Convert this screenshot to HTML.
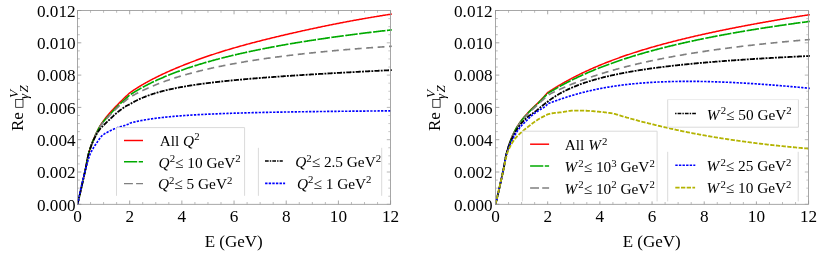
<!DOCTYPE html>
<html><head><meta charset="utf-8"><title>plot</title>
<style>html,body{margin:0;padding:0;background:#fff;}svg{display:block;will-change:transform;}text{font-family:"Liberation Serif",serif;}</style>
</head><body>
<svg width="830" height="259" viewBox="0 0 830 259">
<rect width="830" height="259" fill="#fff"/>
<clipPath id="c77"><rect x="77.5" y="9.5" width="314.70000000000005" height="195.8"/></clipPath>
<g clip-path="url(#c77)" fill="none" stroke-width="1.65" stroke-linejoin="round">
<polyline points="77.50,204.30 77.52,204.24 77.55,204.11 77.59,203.94 77.64,203.73 77.70,203.49 77.77,203.21 77.84,202.90 77.92,202.57 78.01,202.21 78.10,201.82 78.20,201.41 78.30,200.97 78.41,200.51 78.53,200.03 78.65,199.53 78.77,199.00 78.90,198.46 79.04,197.89 79.18,197.30 79.32,196.69 79.47,196.06 79.62,195.41 79.78,194.74 79.94,194.04 80.10,193.34 80.27,192.61 80.44,191.86 80.62,191.09 80.80,190.30 80.98,189.50 81.17,188.67 81.36,187.83 81.56,186.97 81.76,186.09 81.96,185.19 82.16,184.28 82.37,183.34 82.59,182.39 82.80,181.42 83.02,180.43 83.24,179.42 83.47,178.40 83.70,177.36 83.93,176.30 84.17,175.22 84.40,174.13 84.65,173.02 84.89,171.89 85.14,170.75 85.39,169.58 85.64,168.36 85.90,167.07 86.16,165.74 86.42,164.37 86.69,162.97 86.96,161.56 87.23,160.15 87.50,158.75 87.78,157.38 88.06,156.05 88.35,154.79 88.63,153.61 88.92,152.53 89.21,151.51 89.51,150.51 89.80,149.54 90.10,148.59 90.40,147.66 90.71,146.75 91.02,145.87 91.33,145.00 91.64,144.14 91.96,143.31 92.27,142.49 92.59,141.68 92.92,140.88 93.24,140.09 93.57,139.30 93.90,138.53 94.24,137.75 94.57,136.98 94.91,136.20 95.25,135.43 95.60,134.67 95.94,133.91 96.29,133.17 96.64,132.44 96.99,131.72 97.35,131.01 97.71,130.31 98.07,129.62 98.43,128.93 98.80,128.25 99.16,127.57 99.53,126.90 99.91,126.23 100.28,125.57 100.66,124.93 101.04,124.32 101.42,123.75 101.80,123.18 102.19,122.62 102.58,122.06 102.97,121.51 103.36,120.97 103.75,120.43 104.15,119.89 104.55,119.36 104.95,118.83 105.36,118.31 105.76,117.79 106.17,117.27 106.58,116.76 107.00,116.25 107.41,115.74 107.83,115.24 108.25,114.73 108.67,114.23 109.09,113.73 109.52,113.23 109.95,112.73 110.38,112.24 110.81,111.78 111.24,111.31 111.68,110.84 112.12,110.37 112.56,109.91 113.00,109.44 113.45,108.97 113.89,108.50 114.34,108.03 114.79,107.56 115.25,107.09 115.70,106.61 116.16,106.14 116.62,105.67 117.08,105.20 117.54,104.72 118.01,104.25 118.48,103.77 118.95,103.30 119.42,102.82 119.89,102.35 120.36,101.87 120.84,101.40 121.32,100.92 121.80,100.44 122.29,99.96 122.77,99.48 123.26,99.01 123.75,98.53 124.24,98.05 124.73,97.58 125.23,97.10 125.72,96.62 126.22,96.15 126.72,95.68 127.22,95.20 127.73,94.73 128.24,94.25 128.74,93.78 129.25,93.31 129.77,92.85 130.28,92.49 130.80,92.12 131.31,91.76 131.83,91.41 132.36,91.05 132.88,90.70 133.40,90.34 133.93,89.99 134.46,89.64 134.99,89.30 135.52,88.95 136.06,88.61 136.59,88.27 137.13,87.93 137.67,87.59 138.21,87.25 138.76,86.91 139.30,86.58 139.85,86.25 140.40,85.92 140.95,85.59 141.50,85.26 142.06,84.93 142.61,84.61 143.17,84.28 143.73,83.96 144.29,83.64 144.86,83.32 145.42,83.00 145.99,82.68 146.56,82.37 147.13,82.05 147.70,81.74 148.27,81.42 148.85,81.11 149.43,80.80 150.01,80.49 150.59,80.18 151.17,79.88 151.75,79.57 152.34,79.27 152.93,78.96 153.52,78.66 154.11,78.36 154.70,78.06 155.30,77.76 155.89,77.46 156.49,77.16 157.09,76.86 157.69,76.56 158.29,76.27 158.90,75.97 159.51,75.68 160.11,75.39 160.72,75.10 161.34,74.80 161.95,74.51 162.56,74.22 163.18,73.93 163.80,73.65 164.42,73.36 165.04,73.07 165.66,72.79 166.29,72.50 166.92,72.22 167.54,71.93 168.17,71.65 168.81,71.37 169.44,71.09 170.07,70.81 170.71,70.53 171.35,70.25 171.99,69.97 172.63,69.69 173.27,69.41 173.92,69.14 174.56,68.86 175.21,68.59 175.86,68.31 176.51,68.04 177.17,67.76 177.82,67.49 178.48,67.22 179.13,66.94 179.79,66.67 180.45,66.40 181.12,66.13 181.78,65.86 182.45,65.59 183.11,65.32 183.78,65.06 184.45,64.79 185.12,64.52 185.80,64.25 186.47,63.99 187.15,63.72 187.83,63.46 188.51,63.19 189.19,62.93 189.87,62.67 190.55,62.40 191.24,62.14 191.93,61.88 192.62,61.62 193.31,61.36 194.00,61.10 194.69,60.84 195.39,60.58 196.09,60.32 196.78,60.07 197.48,59.81 198.19,59.55 198.89,59.30 199.59,59.05 200.30,58.79 201.01,58.54 201.72,58.29 202.43,58.04 203.14,57.78 203.85,57.53 204.57,57.29 205.28,57.04 206.00,56.79 206.72,56.54 207.44,56.29 208.16,56.05 208.89,55.80 209.61,55.56 210.34,55.31 211.07,55.07 211.80,54.83 212.53,54.59 213.27,54.35 214.00,54.10 214.74,53.86 215.47,53.63 216.21,53.39 216.95,53.15 217.70,52.91 218.44,52.67 219.18,52.44 219.93,52.20 220.68,51.97 221.43,51.73 222.18,51.50 222.93,51.27 223.68,51.04 224.44,50.80 225.20,50.57 225.95,50.34 226.71,50.11 227.48,49.88 228.24,49.65 229.00,49.43 229.77,49.20 230.53,48.97 231.30,48.75 232.07,48.52 232.84,48.30 233.62,48.07 234.39,47.85 235.17,47.62 235.94,47.40 236.72,47.18 237.50,46.96 238.28,46.74 239.06,46.52 239.85,46.30 240.63,46.08 241.42,45.86 242.21,45.64 243.00,45.42 243.79,45.20 244.58,44.98 245.38,44.77 246.17,44.55 246.97,44.34 247.77,44.12 248.57,43.90 249.37,43.69 250.17,43.48 250.97,43.26 251.78,43.05 252.59,42.84 253.39,42.62 254.20,42.41 255.01,42.20 255.83,41.99 256.64,41.78 257.45,41.57 258.27,41.36 259.09,41.15 259.91,40.94 260.73,40.73 261.55,40.52 262.37,40.31 263.20,40.10 264.02,39.89 264.85,39.69 265.68,39.48 266.51,39.27 267.34,39.07 268.17,38.86 269.01,38.66 269.84,38.45 270.68,38.24 271.52,38.04 272.36,37.84 273.20,37.63 274.04,37.43 274.89,37.22 275.73,37.02 276.58,36.82 277.43,36.61 278.27,36.41 279.13,36.21 279.98,36.01 280.83,35.80 281.68,35.60 282.54,35.40 283.40,35.20 284.26,35.00 285.12,34.80 285.98,34.60 286.84,34.40 287.70,34.20 288.57,34.00 289.44,33.80 290.30,33.60 291.17,33.40 292.04,33.20 292.92,33.00 293.79,32.81 294.66,32.61 295.54,32.41 296.42,32.21 297.30,32.02 298.18,31.82 299.06,31.62 299.94,31.42 300.82,31.23 301.71,31.03 302.59,30.83 303.48,30.64 304.37,30.44 305.26,30.25 306.15,30.05 307.05,29.86 307.94,29.66 308.84,29.47 309.73,29.27 310.63,29.08 311.53,28.88 312.43,28.69 313.33,28.50 314.24,28.30 315.14,28.11 316.05,27.92 316.95,27.72 317.86,27.53 318.77,27.34 319.68,27.15 320.60,26.96 321.51,26.77 322.42,26.58 323.34,26.39 324.26,26.20 325.18,26.01 326.10,25.82 327.02,25.63 327.94,25.44 328.87,25.25 329.79,25.07 330.72,24.88 331.64,24.69 332.57,24.51 333.50,24.32 334.44,24.13 335.37,23.95 336.30,23.77 337.24,23.58 338.17,23.40 339.11,23.21 340.05,23.03 340.99,22.85 341.93,22.67 342.88,22.49 343.82,22.31 344.77,22.13 345.71,21.95 346.66,21.77 347.61,21.59 348.56,21.41 349.51,21.23 350.46,21.05 351.42,20.88 352.37,20.70 353.33,20.53 354.29,20.35 355.25,20.18 356.21,20.00 357.17,19.83 358.13,19.65 359.10,19.48 360.06,19.31 361.03,19.14 362.00,18.97 362.97,18.80 363.94,18.63 364.91,18.46 365.88,18.29 366.86,18.12 367.83,17.95 368.81,17.79 369.79,17.62 370.76,17.45 371.74,17.29 372.73,17.13 373.71,16.96 374.69,16.80 375.68,16.63 376.66,16.47 377.65,16.31 378.64,16.15 379.63,15.99 380.62,15.83 381.61,15.67 382.61,15.51 383.60,15.35 384.60,15.20 385.60,15.04 386.59,14.88 387.59,14.73 388.59,14.57 389.60,14.42 390.60,14.27 391.80,14.08" stroke="#ff0000" stroke-width="1.5"/>
<polyline points="77.50,204.30 77.52,204.24 77.55,204.11 77.59,203.94 77.64,203.73 77.70,203.49 77.77,203.21 77.84,202.90 77.92,202.57 78.01,202.21 78.10,201.82 78.20,201.41 78.30,200.97 78.41,200.51 78.53,200.03 78.65,199.53 78.77,199.00 78.90,198.46 79.04,197.89 79.18,197.30 79.32,196.69 79.47,196.06 79.62,195.41 79.78,194.74 79.94,194.04 80.10,193.34 80.27,192.61 80.44,191.86 80.62,191.09 80.80,190.30 80.98,189.50 81.17,188.67 81.36,187.83 81.56,186.97 81.76,186.09 81.96,185.19 82.16,184.28 82.37,183.34 82.59,182.39 82.80,181.42 83.02,180.43 83.24,179.42 83.47,178.40 83.70,177.36 83.93,176.30 84.17,175.22 84.40,174.13 84.65,173.02 84.89,171.89 85.14,170.75 85.39,169.58 85.64,168.36 85.90,167.07 86.16,165.74 86.42,164.36 86.69,162.96 86.96,161.55 87.23,160.13 87.50,158.73 87.78,157.36 88.06,156.04 88.35,154.78 88.63,153.61 88.92,152.53 89.21,151.52 89.51,150.53 89.80,149.57 90.10,148.63 90.40,147.71 90.71,146.81 91.02,145.93 91.33,145.08 91.64,144.24 91.96,143.41 92.27,142.60 92.59,141.80 92.92,141.01 93.24,140.24 93.57,139.46 93.90,138.70 94.24,137.93 94.57,137.17 94.91,136.40 95.25,135.63 95.60,134.87 95.94,134.12 96.29,133.38 96.64,132.65 96.99,131.92 97.35,131.21 97.71,130.50 98.07,129.81 98.43,129.12 98.80,128.45 99.16,127.79 99.53,127.14 99.91,126.50 100.28,125.88 100.66,125.29 101.04,124.73 101.42,124.21 101.80,123.70 102.19,123.19 102.58,122.69 102.97,122.20 103.36,121.72 103.75,121.24 104.15,120.77 104.55,120.30 104.95,119.84 105.36,119.38 105.76,118.92 106.17,118.46 106.58,118.01 107.00,117.55 107.41,117.10 107.83,116.64 108.25,116.18 108.67,115.72 109.09,115.26 109.52,114.79 109.95,114.31 110.38,113.84 110.81,113.37 111.24,112.91 111.68,112.44 112.12,111.98 112.56,111.51 113.00,111.04 113.45,110.57 113.89,110.10 114.34,109.63 114.79,109.16 115.25,108.69 115.70,108.22 116.16,107.75 116.62,107.29 117.08,106.82 117.54,106.36 118.01,105.89 118.48,105.43 118.95,104.97 119.42,104.52 119.89,104.06 120.36,103.61 120.84,103.16 121.32,102.71 121.80,102.25 122.29,101.80 122.77,101.35 123.26,100.90 123.75,100.45 124.24,99.99 124.73,99.54 125.23,99.09 125.72,98.64 126.22,98.18 126.72,97.73 127.22,97.28 127.73,96.83 128.24,96.38 128.74,95.92 129.25,95.47 129.77,95.04 130.28,94.70 130.80,94.37 131.31,94.03 131.83,93.70 132.36,93.36 132.88,93.03 133.40,92.70 133.93,92.38 134.46,92.05 134.99,91.72 135.52,91.40 136.06,91.08 136.59,90.76 137.13,90.44 137.67,90.12 138.21,89.80 138.76,89.49 139.30,89.17 139.85,88.86 140.40,88.55 140.95,88.24 141.50,87.93 142.06,87.62 142.61,87.32 143.17,87.01 143.73,86.71 144.29,86.41 144.86,86.11 145.42,85.81 145.99,85.51 146.56,85.21 147.13,84.92 147.70,84.62 148.27,84.33 148.85,84.04 149.43,83.75 150.01,83.46 150.59,83.17 151.17,82.88 151.75,82.60 152.34,82.31 152.93,82.03 153.52,81.75 154.11,81.47 154.70,81.19 155.30,80.91 155.89,80.63 156.49,80.36 157.09,80.08 157.69,79.81 158.29,79.53 158.90,79.26 159.51,78.99 160.11,78.72 160.72,78.45 161.34,78.18 161.95,77.92 162.56,77.65 163.18,77.39 163.80,77.13 164.42,76.86 165.04,76.60 165.66,76.34 166.29,76.08 166.92,75.82 167.54,75.57 168.17,75.31 168.81,75.06 169.44,74.80 170.07,74.55 170.71,74.30 171.35,74.05 171.99,73.80 172.63,73.55 173.27,73.30 173.92,73.05 174.56,72.81 175.21,72.56 175.86,72.32 176.51,72.07 177.17,71.83 177.82,71.59 178.48,71.35 179.13,71.11 179.79,70.87 180.45,70.63 181.12,70.39 181.78,70.16 182.45,69.92 183.11,69.69 183.78,69.45 184.45,69.22 185.12,68.99 185.80,68.76 186.47,68.53 187.15,68.30 187.83,68.07 188.51,67.84 189.19,67.62 189.87,67.39 190.55,67.17 191.24,66.94 191.93,66.72 192.62,66.50 193.31,66.27 194.00,66.05 194.69,65.83 195.39,65.61 196.09,65.39 196.78,65.18 197.48,64.96 198.19,64.74 198.89,64.53 199.59,64.31 200.30,64.10 201.01,63.89 201.72,63.67 202.43,63.46 203.14,63.25 203.85,63.04 204.57,62.83 205.28,62.62 206.00,62.41 206.72,62.21 207.44,62.00 208.16,61.79 208.89,61.59 209.61,61.38 210.34,61.18 211.07,60.98 211.80,60.77 212.53,60.57 213.27,60.37 214.00,60.17 214.74,59.97 215.47,59.77 216.21,59.57 216.95,59.38 217.70,59.18 218.44,58.98 219.18,58.79 219.93,58.59 220.68,58.40 221.43,58.21 222.18,58.01 222.93,57.82 223.68,57.63 224.44,57.44 225.20,57.25 225.95,57.06 226.71,56.87 227.48,56.68 228.24,56.49 229.00,56.30 229.77,56.12 230.53,55.93 231.30,55.74 232.07,55.56 232.84,55.38 233.62,55.19 234.39,55.01 235.17,54.83 235.94,54.64 236.72,54.46 237.50,54.28 238.28,54.10 239.06,53.92 239.85,53.74 240.63,53.56 241.42,53.39 242.21,53.21 243.00,53.03 243.79,52.86 244.58,52.68 245.38,52.51 246.17,52.33 246.97,52.16 247.77,51.98 248.57,51.81 249.37,51.64 250.17,51.47 250.97,51.30 251.78,51.12 252.59,50.95 253.39,50.78 254.20,50.62 255.01,50.45 255.83,50.28 256.64,50.11 257.45,49.94 258.27,49.78 259.09,49.61 259.91,49.45 260.73,49.28 261.55,49.12 262.37,48.95 263.20,48.79 264.02,48.63 264.85,48.46 265.68,48.30 266.51,48.14 267.34,47.98 268.17,47.82 269.01,47.66 269.84,47.50 270.68,47.34 271.52,47.18 272.36,47.02 273.20,46.86 274.04,46.71 274.89,46.55 275.73,46.39 276.58,46.24 277.43,46.08 278.27,45.93 279.13,45.77 279.98,45.62 280.83,45.47 281.68,45.31 282.54,45.16 283.40,45.01 284.26,44.86 285.12,44.70 285.98,44.55 286.84,44.40 287.70,44.25 288.57,44.10 289.44,43.95 290.30,43.81 291.17,43.66 292.04,43.51 292.92,43.36 293.79,43.21 294.66,43.07 295.54,42.92 296.42,42.78 297.30,42.63 298.18,42.49 299.06,42.34 299.94,42.20 300.82,42.05 301.71,41.91 302.59,41.77 303.48,41.62 304.37,41.48 305.26,41.34 306.15,41.20 307.05,41.06 307.94,40.92 308.84,40.78 309.73,40.64 310.63,40.50 311.53,40.36 312.43,40.22 313.33,40.08 314.24,39.95 315.14,39.81 316.05,39.67 316.95,39.53 317.86,39.40 318.77,39.26 319.68,39.13 320.60,38.99 321.51,38.86 322.42,38.72 323.34,38.59 324.26,38.46 325.18,38.32 326.10,38.19 327.02,38.06 327.94,37.92 328.87,37.79 329.79,37.66 330.72,37.53 331.64,37.40 332.57,37.27 333.50,37.14 334.44,37.01 335.37,36.88 336.30,36.75 337.24,36.62 338.17,36.49 339.11,36.36 340.05,36.24 340.99,36.11 341.93,35.98 342.88,35.86 343.82,35.73 344.77,35.60 345.71,35.48 346.66,35.35 347.61,35.23 348.56,35.10 349.51,34.98 350.46,34.85 351.42,34.73 352.37,34.61 353.33,34.48 354.29,34.36 355.25,34.24 356.21,34.12 357.17,34.00 358.13,33.87 359.10,33.75 360.06,33.63 361.03,33.51 362.00,33.39 362.97,33.27 363.94,33.15 364.91,33.03 365.88,32.91 366.86,32.80 367.83,32.68 368.81,32.56 369.79,32.44 370.76,32.32 371.74,32.21 372.73,32.09 373.71,31.97 374.69,31.86 375.68,31.74 376.66,31.63 377.65,31.51 378.64,31.40 379.63,31.28 380.62,31.17 381.61,31.05 382.61,30.94 383.60,30.82 384.60,30.71 385.60,30.60 386.59,30.49 387.59,30.37 388.59,30.26 389.60,30.15 390.60,30.04 391.80,29.90" stroke="#00aa00" stroke-dasharray="12.5 1.5"/>
<polyline points="77.50,204.30 77.52,204.24 77.55,204.11 77.59,203.94 77.64,203.73 77.70,203.49 77.77,203.21 77.84,202.90 77.92,202.57 78.01,202.21 78.10,201.82 78.20,201.41 78.30,200.97 78.41,200.51 78.53,200.03 78.65,199.53 78.77,199.00 78.90,198.46 79.04,197.89 79.18,197.30 79.32,196.69 79.47,196.06 79.62,195.41 79.78,194.74 79.94,194.04 80.10,193.34 80.27,192.61 80.44,191.86 80.62,191.09 80.80,190.30 80.98,189.50 81.17,188.67 81.36,187.83 81.56,186.97 81.76,186.09 81.96,185.19 82.16,184.28 82.37,183.34 82.59,182.39 82.80,181.42 83.02,180.43 83.24,179.42 83.47,178.40 83.70,177.36 83.93,176.30 84.17,175.22 84.40,174.13 84.65,173.02 84.89,171.89 85.14,170.75 85.39,169.58 85.64,168.36 85.90,167.07 86.16,165.73 86.42,164.36 86.69,162.95 86.96,161.54 87.23,160.12 87.50,158.72 87.78,157.35 88.06,156.03 88.35,154.77 88.63,153.60 88.92,152.53 89.21,151.53 89.51,150.55 89.80,149.59 90.10,148.66 90.40,147.75 90.71,146.87 91.02,146.00 91.33,145.16 91.64,144.33 91.96,143.51 92.27,142.72 92.59,141.93 92.92,141.15 93.24,140.39 93.57,139.62 93.90,138.87 94.24,138.11 94.57,137.36 94.91,136.60 95.25,135.84 95.60,135.08 95.94,134.34 96.29,133.60 96.64,132.87 96.99,132.15 97.35,131.43 97.71,130.73 98.07,130.04 98.43,129.36 98.80,128.70 99.16,128.04 99.53,127.40 99.91,126.78 100.28,126.17 100.66,125.60 101.04,125.06 101.42,124.56 101.80,124.07 102.19,123.58 102.58,123.10 102.97,122.63 103.36,122.17 103.75,121.71 104.15,121.26 104.55,120.81 104.95,120.37 105.36,119.93 105.76,119.49 106.17,119.06 106.58,118.62 107.00,118.19 107.41,117.76 107.83,117.32 108.25,116.88 108.67,116.44 109.09,116.00 109.52,115.55 109.95,115.10 110.38,114.64 110.81,114.20 111.24,113.76 111.68,113.31 112.12,112.86 112.56,112.41 113.00,111.96 113.45,111.50 113.89,111.05 114.34,110.60 114.79,110.15 115.25,109.70 115.70,109.25 116.16,108.81 116.62,108.37 117.08,107.93 117.54,107.49 118.01,107.06 118.48,106.63 118.95,106.21 119.42,105.79 119.89,105.38 120.36,104.97 120.84,104.56 121.32,104.15 121.80,103.74 122.29,103.34 122.77,102.93 123.26,102.53 123.75,102.12 124.24,101.71 124.73,101.31 125.23,100.90 125.72,100.50 126.22,100.09 126.72,99.69 127.22,99.29 127.73,98.89 128.24,98.49 128.74,98.09 129.25,97.69 129.77,97.32 130.28,97.02 130.80,96.72 131.31,96.42 131.83,96.13 132.36,95.84 132.88,95.55 133.40,95.26 133.93,94.97 134.46,94.68 134.99,94.39 135.52,94.11 136.06,93.82 136.59,93.54 137.13,93.26 137.67,92.98 138.21,92.70 138.76,92.43 139.30,92.15 139.85,91.88 140.40,91.61 140.95,91.33 141.50,91.06 142.06,90.80 142.61,90.53 143.17,90.26 143.73,90.00 144.29,89.73 144.86,89.47 145.42,89.21 145.99,88.95 146.56,88.69 147.13,88.43 147.70,88.18 148.27,87.92 148.85,87.67 149.43,87.42 150.01,87.16 150.59,86.91 151.17,86.66 151.75,86.42 152.34,86.17 152.93,85.93 153.52,85.68 154.11,85.44 154.70,85.20 155.30,84.96 155.89,84.72 156.49,84.48 157.09,84.24 157.69,84.00 158.29,83.77 158.90,83.53 159.51,83.30 160.11,83.07 160.72,82.84 161.34,82.61 161.95,82.38 162.56,82.15 163.18,81.93 163.80,81.70 164.42,81.48 165.04,81.26 165.66,81.03 166.29,80.81 166.92,80.59 167.54,80.37 168.17,80.16 168.81,79.94 169.44,79.72 170.07,79.51 170.71,79.29 171.35,79.08 171.99,78.87 172.63,78.66 173.27,78.45 173.92,78.24 174.56,78.03 175.21,77.83 175.86,77.62 176.51,77.41 177.17,77.21 177.82,77.01 178.48,76.81 179.13,76.60 179.79,76.40 180.45,76.21 181.12,76.01 181.78,75.81 182.45,75.61 183.11,75.42 183.78,75.22 184.45,75.03 185.12,74.84 185.80,74.64 186.47,74.45 187.15,74.26 187.83,74.07 188.51,73.89 189.19,73.70 189.87,73.51 190.55,73.33 191.24,73.14 191.93,72.96 192.62,72.77 193.31,72.59 194.00,72.41 194.69,72.23 195.39,72.05 196.09,71.87 196.78,71.69 197.48,71.51 198.19,71.34 198.89,71.16 199.59,70.99 200.30,70.81 201.01,70.64 201.72,70.47 202.43,70.29 203.14,70.12 203.85,69.95 204.57,69.78 205.28,69.62 206.00,69.45 206.72,69.28 207.44,69.11 208.16,68.95 208.89,68.78 209.61,68.62 210.34,68.46 211.07,68.29 211.80,68.13 212.53,67.97 213.27,67.81 214.00,67.65 214.74,67.49 215.47,67.33 216.21,67.17 216.95,67.02 217.70,66.86 218.44,66.71 219.18,66.55 219.93,66.40 220.68,66.24 221.43,66.09 222.18,65.94 222.93,65.79 223.68,65.64 224.44,65.49 225.20,65.34 225.95,65.19 226.71,65.04 227.48,64.89 228.24,64.75 229.00,64.60 229.77,64.46 230.53,64.31 231.30,64.17 232.07,64.02 232.84,63.88 233.62,63.74 234.39,63.60 235.17,63.46 235.94,63.32 236.72,63.18 237.50,63.04 238.28,62.90 239.06,62.76 239.85,62.62 240.63,62.49 241.42,62.35 242.21,62.22 243.00,62.08 243.79,61.95 244.58,61.81 245.38,61.68 246.17,61.55 246.97,61.42 247.77,61.28 248.57,61.15 249.37,61.02 250.17,60.89 250.97,60.76 251.78,60.64 252.59,60.51 253.39,60.38 254.20,60.25 255.01,60.13 255.83,60.00 256.64,59.88 257.45,59.75 258.27,59.63 259.09,59.51 259.91,59.38 260.73,59.26 261.55,59.14 262.37,59.02 263.20,58.90 264.02,58.78 264.85,58.66 265.68,58.54 266.51,58.42 267.34,58.30 268.17,58.18 269.01,58.07 269.84,57.95 270.68,57.83 271.52,57.72 272.36,57.60 273.20,57.49 274.04,57.38 274.89,57.26 275.73,57.15 276.58,57.04 277.43,56.92 278.27,56.81 279.13,56.70 279.98,56.59 280.83,56.48 281.68,56.37 282.54,56.26 283.40,56.15 284.26,56.05 285.12,55.94 285.98,55.83 286.84,55.72 287.70,55.62 288.57,55.51 289.44,55.41 290.30,55.30 291.17,55.20 292.04,55.09 292.92,54.99 293.79,54.89 294.66,54.78 295.54,54.68 296.42,54.58 297.30,54.48 298.18,54.38 299.06,54.28 299.94,54.18 300.82,54.08 301.71,53.98 302.59,53.88 303.48,53.78 304.37,53.68 305.26,53.59 306.15,53.49 307.05,53.39 307.94,53.30 308.84,53.20 309.73,53.10 310.63,53.01 311.53,52.92 312.43,52.82 313.33,52.73 314.24,52.63 315.14,52.54 316.05,52.45 316.95,52.36 317.86,52.26 318.77,52.17 319.68,52.08 320.60,51.99 321.51,51.90 322.42,51.81 323.34,51.72 324.26,51.63 325.18,51.55 326.10,51.46 327.02,51.37 327.94,51.28 328.87,51.20 329.79,51.11 330.72,51.02 331.64,50.94 332.57,50.85 333.50,50.77 334.44,50.68 335.37,50.60 336.30,50.51 337.24,50.43 338.17,50.35 339.11,50.26 340.05,50.18 340.99,50.10 341.93,50.02 342.88,49.93 343.82,49.85 344.77,49.77 345.71,49.69 346.66,49.61 347.61,49.53 348.56,49.45 349.51,49.37 350.46,49.30 351.42,49.22 352.37,49.14 353.33,49.06 354.29,48.98 355.25,48.91 356.21,48.83 357.17,48.75 358.13,48.68 359.10,48.60 360.06,48.53 361.03,48.45 362.00,48.38 362.97,48.30 363.94,48.23 364.91,48.16 365.88,48.08 366.86,48.01 367.83,47.94 368.81,47.86 369.79,47.79 370.76,47.72 371.74,47.65 372.73,47.58 373.71,47.51 374.69,47.44 375.68,47.37 376.66,47.30 377.65,47.23 378.64,47.16 379.63,47.09 380.62,47.02 381.61,46.95 382.61,46.88 383.60,46.82 384.60,46.75 385.60,46.68 386.59,46.62 387.59,46.55 388.59,46.48 389.60,46.42 390.60,46.35 391.80,46.27" stroke="#808080" stroke-dasharray="6.9 4.55"/>
<polyline points="77.50,204.30 77.52,204.24 77.55,204.11 77.59,203.94 77.64,203.73 77.70,203.48 77.77,203.20 77.84,202.89 77.92,202.55 78.01,202.19 78.10,201.80 78.20,201.39 78.30,200.95 78.41,200.48 78.53,200.00 78.65,199.49 78.77,198.96 78.90,198.41 79.04,197.84 79.18,197.25 79.32,196.64 79.47,196.00 79.62,195.35 79.78,194.68 79.94,193.99 80.10,193.27 80.27,192.54 80.44,191.79 80.62,191.03 80.80,190.24 80.98,189.43 81.17,188.61 81.36,187.77 81.56,186.91 81.76,186.03 81.96,185.13 82.16,184.21 82.37,183.28 82.59,182.33 82.80,181.36 83.02,180.38 83.24,179.38 83.47,178.36 83.70,177.32 83.93,176.27 84.17,175.19 84.40,174.11 84.65,173.00 84.89,171.88 85.14,170.74 85.39,169.58 85.64,168.36 85.90,167.08 86.16,165.75 86.42,164.38 86.69,162.98 86.96,161.58 87.23,160.17 87.50,158.78 87.78,157.43 88.06,156.13 88.35,154.90 88.63,153.76 88.92,152.73 89.21,151.77 89.51,150.82 89.80,149.90 90.10,148.99 90.40,148.10 90.71,147.22 91.02,146.37 91.33,145.53 91.64,144.71 91.96,143.90 92.27,143.11 92.59,142.34 92.92,141.58 93.24,140.84 93.57,140.11 93.90,139.39 94.24,138.69 94.57,138.00 94.91,137.32 95.25,136.65 95.60,135.99 95.94,135.34 96.29,134.70 96.64,134.07 96.99,133.45 97.35,132.86 97.71,132.28 98.07,131.72 98.43,131.17 98.80,130.65 99.16,130.14 99.53,129.65 99.91,129.17 100.28,128.71 100.66,128.27 101.04,127.85 101.42,127.44 101.80,127.05 102.19,126.66 102.58,126.28 102.97,125.90 103.36,125.52 103.75,125.14 104.15,124.76 104.55,124.36 104.95,123.96 105.36,123.55 105.76,123.15 106.17,122.75 106.58,122.36 107.00,121.96 107.41,121.57 107.83,121.18 108.25,120.79 108.67,120.39 109.09,120.00 109.52,119.60 109.95,119.19 110.38,118.79 110.81,118.38 111.24,117.96 111.68,117.55 112.12,117.13 112.56,116.71 113.00,116.29 113.45,115.87 113.89,115.45 114.34,115.03 114.79,114.62 115.25,114.22 115.70,113.82 116.16,113.42 116.62,113.03 117.08,112.65 117.54,112.26 118.01,111.88 118.48,111.51 118.95,111.14 119.42,110.78 119.89,110.42 120.36,110.07 120.84,109.71 121.32,109.36 121.80,109.01 122.29,108.66 122.77,108.31 123.26,107.96 123.75,107.62 124.24,107.29 124.73,106.97 125.23,106.65 125.72,106.35 126.22,106.05 126.72,105.77 127.22,105.50 127.73,105.25 128.24,105.00 128.74,104.77 129.25,104.55 129.77,104.32 130.28,104.00 130.80,103.69 131.31,103.38 131.83,103.07 132.36,102.77 132.88,102.47 133.40,102.17 133.93,101.88 134.46,101.60 134.99,101.32 135.52,101.04 136.06,100.76 136.59,100.49 137.13,100.22 137.67,99.96 138.21,99.70 138.76,99.44 139.30,99.19 139.85,98.94 140.40,98.69 140.95,98.44 141.50,98.20 142.06,97.96 142.61,97.73 143.17,97.49 143.73,97.26 144.29,97.04 144.86,96.81 145.42,96.59 145.99,96.37 146.56,96.15 147.13,95.94 147.70,95.73 148.27,95.52 148.85,95.31 149.43,95.11 150.01,94.91 150.59,94.71 151.17,94.51 151.75,94.32 152.34,94.12 152.93,93.93 153.52,93.74 154.11,93.56 154.70,93.37 155.30,93.19 155.89,93.01 156.49,92.83 157.09,92.66 157.69,92.48 158.29,92.31 158.90,92.14 159.51,91.97 160.11,91.80 160.72,91.64 161.34,91.47 161.95,91.31 162.56,91.15 163.18,90.99 163.80,90.83 164.42,90.68 165.04,90.52 165.66,90.37 166.29,90.22 166.92,90.07 167.54,89.92 168.17,89.78 168.81,89.63 169.44,89.49 170.07,89.34 170.71,89.20 171.35,89.06 171.99,88.92 172.63,88.79 173.27,88.65 173.92,88.52 174.56,88.38 175.21,88.25 175.86,88.12 176.51,87.99 177.17,87.86 177.82,87.73 178.48,87.61 179.13,87.48 179.79,87.36 180.45,87.23 181.12,87.11 181.78,86.99 182.45,86.87 183.11,86.75 183.78,86.63 184.45,86.52 185.12,86.40 185.80,86.29 186.47,86.17 187.15,86.06 187.83,85.95 188.51,85.84 189.19,85.72 189.87,85.62 190.55,85.51 191.24,85.40 191.93,85.29 192.62,85.19 193.31,85.08 194.00,84.98 194.69,84.87 195.39,84.77 196.09,84.67 196.78,84.56 197.48,84.46 198.19,84.36 198.89,84.26 199.59,84.17 200.30,84.07 201.01,83.97 201.72,83.87 202.43,83.78 203.14,83.68 203.85,83.59 204.57,83.49 205.28,83.40 206.00,83.31 206.72,83.22 207.44,83.12 208.16,83.03 208.89,82.94 209.61,82.85 210.34,82.77 211.07,82.68 211.80,82.59 212.53,82.50 213.27,82.41 214.00,82.33 214.74,82.24 215.47,82.16 216.21,82.07 216.95,81.99 217.70,81.91 218.44,81.82 219.18,81.74 219.93,81.66 220.68,81.58 221.43,81.49 222.18,81.41 222.93,81.33 223.68,81.25 224.44,81.17 225.20,81.09 225.95,81.02 226.71,80.94 227.48,80.86 228.24,80.78 229.00,80.71 229.77,80.63 230.53,80.55 231.30,80.48 232.07,80.40 232.84,80.33 233.62,80.25 234.39,80.18 235.17,80.11 235.94,80.03 236.72,79.96 237.50,79.89 238.28,79.81 239.06,79.74 239.85,79.67 240.63,79.60 241.42,79.53 242.21,79.46 243.00,79.39 243.79,79.32 244.58,79.25 245.38,79.18 246.17,79.11 246.97,79.04 247.77,78.97 248.57,78.90 249.37,78.84 250.17,78.77 250.97,78.70 251.78,78.63 252.59,78.57 253.39,78.50 254.20,78.43 255.01,78.37 255.83,78.30 256.64,78.24 257.45,78.17 258.27,78.11 259.09,78.04 259.91,77.98 260.73,77.91 261.55,77.85 262.37,77.79 263.20,77.72 264.02,77.66 264.85,77.60 265.68,77.53 266.51,77.47 267.34,77.41 268.17,77.35 269.01,77.28 269.84,77.22 270.68,77.16 271.52,77.10 272.36,77.04 273.20,76.98 274.04,76.92 274.89,76.85 275.73,76.79 276.58,76.73 277.43,76.67 278.27,76.61 279.13,76.55 279.98,76.49 280.83,76.44 281.68,76.38 282.54,76.32 283.40,76.26 284.26,76.20 285.12,76.14 285.98,76.08 286.84,76.02 287.70,75.97 288.57,75.91 289.44,75.85 290.30,75.79 291.17,75.74 292.04,75.68 292.92,75.62 293.79,75.56 294.66,75.51 295.54,75.45 296.42,75.39 297.30,75.34 298.18,75.28 299.06,75.22 299.94,75.17 300.82,75.11 301.71,75.06 302.59,75.00 303.48,74.94 304.37,74.89 305.26,74.83 306.15,74.78 307.05,74.72 307.94,74.67 308.84,74.61 309.73,74.56 310.63,74.50 311.53,74.45 312.43,74.39 313.33,74.34 314.24,74.29 315.14,74.23 316.05,74.18 316.95,74.12 317.86,74.07 318.77,74.02 319.68,73.96 320.60,73.91 321.51,73.85 322.42,73.80 323.34,73.75 324.26,73.69 325.18,73.64 326.10,73.59 327.02,73.53 327.94,73.48 328.87,73.43 329.79,73.38 330.72,73.32 331.64,73.27 332.57,73.22 333.50,73.17 334.44,73.11 335.37,73.06 336.30,73.01 337.24,72.96 338.17,72.90 339.11,72.85 340.05,72.80 340.99,72.75 341.93,72.70 342.88,72.64 343.82,72.59 344.77,72.54 345.71,72.49 346.66,72.44 347.61,72.39 348.56,72.33 349.51,72.28 350.46,72.23 351.42,72.18 352.37,72.13 353.33,72.08 354.29,72.03 355.25,71.97 356.21,71.92 357.17,71.87 358.13,71.82 359.10,71.77 360.06,71.72 361.03,71.67 362.00,71.62 362.97,71.57 363.94,71.52 364.91,71.47 365.88,71.42 366.86,71.36 367.83,71.31 368.81,71.26 369.79,71.21 370.76,71.16 371.74,71.11 372.73,71.06 373.71,71.01 374.69,70.96 375.68,70.91 376.66,70.86 377.65,70.81 378.64,70.76 379.63,70.71 380.62,70.66 381.61,70.61 382.61,70.56 383.60,70.51 384.60,70.46 385.60,70.41 386.59,70.36 387.59,70.31 388.59,70.26 389.60,70.21 390.60,70.16 391.80,70.10" stroke="#000000" stroke-dasharray="5.2 1.15 1.9 1.15" stroke-width="1.8"/>
<polyline points="77.50,204.30 77.52,204.22 77.55,204.07 77.59,203.86 77.64,203.60 77.70,203.31 77.77,202.97 77.84,202.60 77.92,202.20 78.01,201.77 78.10,201.32 78.20,200.83 78.30,200.32 78.41,199.79 78.53,199.23 78.65,198.66 78.77,198.06 78.90,197.44 79.04,196.81 79.18,196.16 79.32,195.48 79.47,194.80 79.62,194.10 79.78,193.38 79.94,192.65 80.10,191.90 80.27,191.14 80.44,190.37 80.62,189.59 80.80,188.79 80.98,187.98 81.17,187.17 81.36,186.34 81.56,185.50 81.76,184.65 81.96,183.79 82.16,182.93 82.37,182.05 82.59,181.17 82.80,180.27 83.02,179.37 83.24,178.47 83.47,177.55 83.70,176.63 83.93,175.69 84.17,174.76 84.40,173.81 84.65,172.86 84.89,171.89 85.14,170.94 85.39,170.04 85.64,169.12 85.90,168.19 86.16,167.24 86.42,166.28 86.69,165.30 86.96,164.32 87.23,163.33 87.50,162.34 87.78,161.36 88.06,160.38 88.35,159.42 88.63,158.47 88.92,157.54 89.21,156.64 89.51,155.77 89.80,154.94 90.10,154.15 90.40,153.41 90.71,152.77 91.02,152.17 91.33,151.59 91.64,151.01 91.96,150.44 92.27,149.88 92.59,149.33 92.92,148.77 93.24,148.23 93.57,147.69 93.90,147.15 94.24,146.61 94.57,146.08 94.91,145.55 95.25,145.02 95.60,144.50 95.94,143.97 96.29,143.44 96.64,142.91 96.99,142.41 97.35,141.90 97.71,141.38 98.07,140.85 98.43,140.32 98.80,139.78 99.16,139.25 99.53,138.72 99.91,138.20 100.28,137.69 100.66,137.20 101.04,136.74 101.42,136.30 101.80,135.90 102.19,135.53 102.58,135.20 102.97,134.89 103.36,134.61 103.75,134.34 104.15,134.08 104.55,133.82 104.95,133.57 105.36,133.33 105.76,133.09 106.17,132.85 106.58,132.62 107.00,132.40 107.41,132.18 107.83,131.96 108.25,131.74 108.67,131.52 109.09,131.30 109.52,131.08 109.95,130.87 110.38,130.65 110.81,130.44 111.24,130.23 111.68,130.02 112.12,129.82 112.56,129.62 113.00,129.42 113.45,129.22 113.89,129.03 114.34,128.84 114.79,128.65 115.25,128.46 115.70,128.28 116.16,128.10 116.62,127.93 117.08,127.76 117.54,127.60 118.01,127.44 118.48,127.29 118.95,127.14 119.42,127.00 119.89,126.87 120.36,126.73 120.84,126.60 121.32,126.47 121.80,126.34 122.29,126.20 122.77,126.07 123.26,125.93 123.75,125.79 124.24,125.64 124.73,125.49 125.23,125.33 125.72,125.16 126.22,124.98 126.72,124.79 127.22,124.59 127.73,124.38 128.24,124.15 128.74,123.86 129.25,123.52 129.77,123.21 130.28,123.07 130.80,122.93 131.31,122.79 131.83,122.66 132.36,122.53 132.88,122.40 133.40,122.27 133.93,122.14 134.46,122.01 134.99,121.89 135.52,121.77 136.06,121.64 136.59,121.52 137.13,121.41 137.67,121.29 138.21,121.18 138.76,121.06 139.30,120.95 139.85,120.84 140.40,120.73 140.95,120.62 141.50,120.52 142.06,120.41 142.61,120.31 143.17,120.21 143.73,120.11 144.29,120.01 144.86,119.91 145.42,119.81 145.99,119.72 146.56,119.62 147.13,119.53 147.70,119.44 148.27,119.35 148.85,119.26 149.43,119.17 150.01,119.08 150.59,118.99 151.17,118.91 151.75,118.82 152.34,118.74 152.93,118.66 153.52,118.58 154.11,118.49 154.70,118.42 155.30,118.34 155.89,118.26 156.49,118.18 157.09,118.11 157.69,118.03 158.29,117.96 158.90,117.88 159.51,117.81 160.11,117.74 160.72,117.67 161.34,117.60 161.95,117.53 162.56,117.46 163.18,117.39 163.80,117.33 164.42,117.26 165.04,117.20 165.66,117.13 166.29,117.07 166.92,117.00 167.54,116.94 168.17,116.88 168.81,116.82 169.44,116.76 170.07,116.70 170.71,116.64 171.35,116.58 171.99,116.52 172.63,116.47 173.27,116.41 173.92,116.35 174.56,116.30 175.21,116.24 175.86,116.19 176.51,116.14 177.17,116.08 177.82,116.03 178.48,115.98 179.13,115.93 179.79,115.88 180.45,115.83 181.12,115.78 181.78,115.73 182.45,115.68 183.11,115.63 183.78,115.58 184.45,115.54 185.12,115.49 185.80,115.44 186.47,115.40 187.15,115.35 187.83,115.31 188.51,115.26 189.19,115.22 189.87,115.18 190.55,115.13 191.24,115.09 191.93,115.05 192.62,115.01 193.31,114.97 194.00,114.93 194.69,114.89 195.39,114.85 196.09,114.81 196.78,114.77 197.48,114.73 198.19,114.69 198.89,114.65 199.59,114.61 200.30,114.58 201.01,114.54 201.72,114.50 202.43,114.47 203.14,114.43 203.85,114.39 204.57,114.36 205.28,114.32 206.00,114.29 206.72,114.26 207.44,114.22 208.16,114.19 208.89,114.16 209.61,114.12 210.34,114.09 211.07,114.06 211.80,114.03 212.53,113.99 213.27,113.96 214.00,113.93 214.74,113.90 215.47,113.87 216.21,113.84 216.95,113.81 217.70,113.78 218.44,113.75 219.18,113.72 219.93,113.69 220.68,113.67 221.43,113.64 222.18,113.61 222.93,113.58 223.68,113.55 224.44,113.53 225.20,113.50 225.95,113.47 226.71,113.45 227.48,113.42 228.24,113.39 229.00,113.37 229.77,113.34 230.53,113.32 231.30,113.29 232.07,113.27 232.84,113.24 233.62,113.22 234.39,113.19 235.17,113.17 235.94,113.14 236.72,113.12 237.50,113.10 238.28,113.07 239.06,113.05 239.85,113.03 240.63,113.01 241.42,112.98 242.21,112.96 243.00,112.94 243.79,112.92 244.58,112.90 245.38,112.87 246.17,112.85 246.97,112.83 247.77,112.81 248.57,112.79 249.37,112.77 250.17,112.75 250.97,112.73 251.78,112.71 252.59,112.69 253.39,112.67 254.20,112.65 255.01,112.63 255.83,112.61 256.64,112.59 257.45,112.57 258.27,112.55 259.09,112.53 259.91,112.52 260.73,112.50 261.55,112.48 262.37,112.46 263.20,112.44 264.02,112.42 264.85,112.41 265.68,112.39 266.51,112.37 267.34,112.35 268.17,112.34 269.01,112.32 269.84,112.30 270.68,112.29 271.52,112.27 272.36,112.25 273.20,112.24 274.04,112.22 274.89,112.21 275.73,112.19 276.58,112.17 277.43,112.16 278.27,112.14 279.13,112.13 279.98,112.11 280.83,112.10 281.68,112.08 282.54,112.07 283.40,112.05 284.26,112.04 285.12,112.02 285.98,112.01 286.84,111.99 287.70,111.98 288.57,111.96 289.44,111.95 290.30,111.94 291.17,111.92 292.04,111.91 292.92,111.89 293.79,111.88 294.66,111.87 295.54,111.85 296.42,111.84 297.30,111.83 298.18,111.81 299.06,111.80 299.94,111.79 300.82,111.77 301.71,111.76 302.59,111.75 303.48,111.74 304.37,111.72 305.26,111.71 306.15,111.70 307.05,111.69 307.94,111.67 308.84,111.66 309.73,111.65 310.63,111.64 311.53,111.63 312.43,111.61 313.33,111.60 314.24,111.59 315.14,111.58 316.05,111.57 316.95,111.56 317.86,111.55 318.77,111.53 319.68,111.52 320.60,111.51 321.51,111.50 322.42,111.49 323.34,111.48 324.26,111.47 325.18,111.46 326.10,111.45 327.02,111.44 327.94,111.43 328.87,111.41 329.79,111.40 330.72,111.39 331.64,111.38 332.57,111.37 333.50,111.36 334.44,111.35 335.37,111.34 336.30,111.33 337.24,111.32 338.17,111.31 339.11,111.30 340.05,111.29 340.99,111.28 341.93,111.27 342.88,111.26 343.82,111.25 344.77,111.25 345.71,111.24 346.66,111.23 347.61,111.22 348.56,111.21 349.51,111.20 350.46,111.19 351.42,111.18 352.37,111.17 353.33,111.16 354.29,111.15 355.25,111.14 356.21,111.14 357.17,111.13 358.13,111.12 359.10,111.11 360.06,111.10 361.03,111.09 362.00,111.08 362.97,111.08 363.94,111.07 364.91,111.06 365.88,111.05 366.86,111.04 367.83,111.03 368.81,111.02 369.79,111.02 370.76,111.01 371.74,111.00 372.73,110.99 373.71,110.98 374.69,110.98 375.68,110.97 376.66,110.96 377.65,110.95 378.64,110.94 379.63,110.94 380.62,110.93 381.61,110.92 382.61,110.91 383.60,110.91 384.60,110.90 385.60,110.89 386.59,110.88 387.59,110.88 388.59,110.87 389.60,110.86 390.60,110.85 391.80,110.84" stroke="#0000ff" stroke-dasharray="2.3 1.3"/>
</g>
<g stroke="#929292" stroke-width="0.8" fill="none">
<rect x="77.5" y="10.5" width="313.1" height="193.8"/>
<path d="M77.50 204.3 v-3.8 M77.50 10.5 v3.8"/>
<path d="M90.55 204.3 v-2.3 M90.55 10.5 v2.3" stroke-width="0.6"/>
<path d="M103.59 204.3 v-2.3 M103.59 10.5 v2.3" stroke-width="0.6"/>
<path d="M116.64 204.3 v-2.3 M116.64 10.5 v2.3" stroke-width="0.6"/>
<path d="M129.68 204.3 v-3.8 M129.68 10.5 v3.8"/>
<path d="M142.73 204.3 v-2.3 M142.73 10.5 v2.3" stroke-width="0.6"/>
<path d="M155.78 204.3 v-2.3 M155.78 10.5 v2.3" stroke-width="0.6"/>
<path d="M168.82 204.3 v-2.3 M168.82 10.5 v2.3" stroke-width="0.6"/>
<path d="M181.87 204.3 v-3.8 M181.87 10.5 v3.8"/>
<path d="M194.91 204.3 v-2.3 M194.91 10.5 v2.3" stroke-width="0.6"/>
<path d="M207.96 204.3 v-2.3 M207.96 10.5 v2.3" stroke-width="0.6"/>
<path d="M221.00 204.3 v-2.3 M221.00 10.5 v2.3" stroke-width="0.6"/>
<path d="M234.05 204.3 v-3.8 M234.05 10.5 v3.8"/>
<path d="M247.10 204.3 v-2.3 M247.10 10.5 v2.3" stroke-width="0.6"/>
<path d="M260.14 204.3 v-2.3 M260.14 10.5 v2.3" stroke-width="0.6"/>
<path d="M273.19 204.3 v-2.3 M273.19 10.5 v2.3" stroke-width="0.6"/>
<path d="M286.23 204.3 v-3.8 M286.23 10.5 v3.8"/>
<path d="M299.28 204.3 v-2.3 M299.28 10.5 v2.3" stroke-width="0.6"/>
<path d="M312.33 204.3 v-2.3 M312.33 10.5 v2.3" stroke-width="0.6"/>
<path d="M325.37 204.3 v-2.3 M325.37 10.5 v2.3" stroke-width="0.6"/>
<path d="M338.42 204.3 v-3.8 M338.42 10.5 v3.8"/>
<path d="M351.46 204.3 v-2.3 M351.46 10.5 v2.3" stroke-width="0.6"/>
<path d="M364.51 204.3 v-2.3 M364.51 10.5 v2.3" stroke-width="0.6"/>
<path d="M377.55 204.3 v-2.3 M377.55 10.5 v2.3" stroke-width="0.6"/>
<path d="M390.60 204.3 v-3.8 M390.60 10.5 v3.8"/>
<path d="M77.5 204.30 h3.8"/><path d="M390.6 204.30 h-3.8" stroke="#a4a4a4"/>
<path d="M77.5 196.23 h2.3" stroke-width="0.6"/><path d="M390.6 196.23 h-2.3" stroke="#a4a4a4" stroke-width="0.6"/>
<path d="M77.5 188.15 h2.3" stroke-width="0.6"/><path d="M390.6 188.15 h-2.3" stroke="#a4a4a4" stroke-width="0.6"/>
<path d="M77.5 180.08 h2.3" stroke-width="0.6"/><path d="M390.6 180.08 h-2.3" stroke="#a4a4a4" stroke-width="0.6"/>
<path d="M77.5 172.00 h3.8"/><path d="M390.6 172.00 h-3.8" stroke="#a4a4a4"/>
<path d="M77.5 163.93 h2.3" stroke-width="0.6"/><path d="M390.6 163.93 h-2.3" stroke="#a4a4a4" stroke-width="0.6"/>
<path d="M77.5 155.85 h2.3" stroke-width="0.6"/><path d="M390.6 155.85 h-2.3" stroke="#a4a4a4" stroke-width="0.6"/>
<path d="M77.5 147.78 h2.3" stroke-width="0.6"/><path d="M390.6 147.78 h-2.3" stroke="#a4a4a4" stroke-width="0.6"/>
<path d="M77.5 139.70 h3.8"/><path d="M390.6 139.70 h-3.8" stroke="#a4a4a4"/>
<path d="M77.5 131.62 h2.3" stroke-width="0.6"/><path d="M390.6 131.62 h-2.3" stroke="#a4a4a4" stroke-width="0.6"/>
<path d="M77.5 123.55 h2.3" stroke-width="0.6"/><path d="M390.6 123.55 h-2.3" stroke="#a4a4a4" stroke-width="0.6"/>
<path d="M77.5 115.48 h2.3" stroke-width="0.6"/><path d="M390.6 115.48 h-2.3" stroke="#a4a4a4" stroke-width="0.6"/>
<path d="M77.5 107.40 h3.8"/><path d="M390.6 107.40 h-3.8" stroke="#a4a4a4"/>
<path d="M77.5 99.33 h2.3" stroke-width="0.6"/><path d="M390.6 99.33 h-2.3" stroke="#a4a4a4" stroke-width="0.6"/>
<path d="M77.5 91.25 h2.3" stroke-width="0.6"/><path d="M390.6 91.25 h-2.3" stroke="#a4a4a4" stroke-width="0.6"/>
<path d="M77.5 83.18 h2.3" stroke-width="0.6"/><path d="M390.6 83.18 h-2.3" stroke="#a4a4a4" stroke-width="0.6"/>
<path d="M77.5 75.10 h3.8"/><path d="M390.6 75.10 h-3.8" stroke="#a4a4a4"/>
<path d="M77.5 67.03 h2.3" stroke-width="0.6"/><path d="M390.6 67.03 h-2.3" stroke="#a4a4a4" stroke-width="0.6"/>
<path d="M77.5 58.95 h2.3" stroke-width="0.6"/><path d="M390.6 58.95 h-2.3" stroke="#a4a4a4" stroke-width="0.6"/>
<path d="M77.5 50.88 h2.3" stroke-width="0.6"/><path d="M390.6 50.88 h-2.3" stroke="#a4a4a4" stroke-width="0.6"/>
<path d="M77.5 42.80 h3.8"/><path d="M390.6 42.80 h-3.8" stroke="#a4a4a4"/>
<path d="M77.5 34.72 h2.3" stroke-width="0.6"/><path d="M390.6 34.72 h-2.3" stroke="#a4a4a4" stroke-width="0.6"/>
<path d="M77.5 26.65 h2.3" stroke-width="0.6"/><path d="M390.6 26.65 h-2.3" stroke="#a4a4a4" stroke-width="0.6"/>
<path d="M77.5 18.58 h2.3" stroke-width="0.6"/><path d="M390.6 18.58 h-2.3" stroke="#a4a4a4" stroke-width="0.6"/>
<path d="M77.5 10.50 h3.8"/><path d="M390.6 10.50 h-3.8" stroke="#a4a4a4"/>
</g>
<g font-size="17.2" fill="#000">
<text x="77.50" y="221.6" text-anchor="middle">0</text>
<text x="129.68" y="221.6" text-anchor="middle">2</text>
<text x="181.87" y="221.6" text-anchor="middle">4</text>
<text x="234.05" y="221.6" text-anchor="middle">6</text>
<text x="286.23" y="221.6" text-anchor="middle">8</text>
<text x="338.42" y="221.6" text-anchor="middle">10</text>
<text x="390.60" y="221.6" text-anchor="middle">12</text>
<text x="75.60" y="210.50" text-anchor="end">0.000</text>
<text x="75.60" y="178.20" text-anchor="end">0.002</text>
<text x="75.60" y="145.90" text-anchor="end">0.004</text>
<text x="75.60" y="113.60" text-anchor="end">0.006</text>
<text x="75.60" y="81.30" text-anchor="end">0.008</text>
<text x="75.60" y="49.00" text-anchor="end">0.010</text>
<text x="75.60" y="16.70" text-anchor="end">0.012</text>
</g>
<text x="233.75" y="246.7" text-anchor="middle" font-size="17">E (GeV)</text>
<g transform="translate(23.10,131) rotate(-90)" fill="#000"><text x="0" y="0" font-size="17">Re</text><rect x="23.7" y="-7.4" width="7.7" height="7.3" fill="none" stroke="#000" stroke-width="0.75"/><text x="32.9" y="-4.9" font-size="13.2" font-style="italic">V</text><text x="32.0" y="4.6" font-size="12.8" font-style="italic">γ</text><text x="38.4" y="4.6" font-size="13" font-style="italic">Z</text></g>
<clipPath id="c495"><rect x="495.5" y="9.5" width="314.70000000000005" height="195.8"/></clipPath>
<g clip-path="url(#c495)" fill="none" stroke-width="1.65" stroke-linejoin="round">
<polyline points="495.50,204.30 495.52,204.24 495.55,204.12 495.59,203.96 495.64,203.76 495.70,203.52 495.77,203.26 495.84,202.97 495.92,202.65 496.01,202.30 496.10,201.93 496.20,201.54 496.30,201.12 496.41,200.67 496.53,200.21 496.65,199.72 496.77,199.21 496.90,198.68 497.04,198.12 497.18,197.55 497.32,196.95 497.47,196.33 497.62,195.70 497.78,195.04 497.94,194.36 498.10,193.65 498.27,192.93 498.44,192.19 498.62,191.43 498.80,190.64 498.98,189.84 499.17,189.02 499.36,188.17 499.56,187.31 499.76,186.42 499.96,185.52 500.16,184.59 500.37,183.65 500.59,182.68 500.80,181.70 501.02,180.69 501.24,179.67 501.47,178.62 501.70,177.56 501.93,176.48 502.17,175.37 502.40,174.25 502.65,173.11 502.89,171.95 503.14,170.77 503.39,169.57 503.64,168.29 503.90,166.95 504.16,165.54 504.42,164.09 504.69,162.61 504.96,161.11 505.23,159.62 505.50,158.15 505.78,156.71 506.06,155.34 506.35,154.05 506.63,152.86 506.92,151.77 507.21,150.71 507.51,149.66 507.80,148.64 508.10,147.64 508.40,146.67 508.71,145.71 509.02,144.77 509.33,143.86 509.64,142.96 509.96,142.08 510.27,141.22 510.59,140.38 510.92,139.55 511.24,138.73 511.57,137.94 511.90,137.15 512.24,136.37 512.57,135.61 512.91,134.86 513.25,134.12 513.60,133.39 513.94,132.67 514.29,131.96 514.64,131.27 514.99,130.59 515.35,129.91 515.71,129.25 516.07,128.61 516.43,127.97 516.80,127.34 517.16,126.73 517.53,126.12 517.91,125.53 518.28,124.94 518.66,124.36 519.04,123.80 519.42,123.24 519.80,122.69 520.19,122.15 520.58,121.61 520.97,121.08 521.36,120.56 521.75,120.05 522.15,119.54 522.55,119.04 522.95,118.54 523.36,118.04 523.76,117.56 524.17,117.07 524.58,116.59 525.00,116.11 525.41,115.64 525.83,115.16 526.25,114.69 526.67,114.22 527.09,113.75 527.52,113.28 527.95,112.81 528.38,112.33 528.81,111.86 529.24,111.39 529.68,110.93 530.12,110.48 530.56,110.03 531.00,109.58 531.45,109.14 531.89,108.70 532.34,108.26 532.79,107.83 533.25,107.39 533.70,106.96 534.16,106.53 534.62,106.10 535.08,105.66 535.54,105.23 536.01,104.79 536.48,104.35 536.95,103.91 537.42,103.46 537.89,103.01 538.36,102.55 538.84,102.08 539.32,101.60 539.80,101.12 540.29,100.63 540.77,100.13 541.26,99.61 541.75,99.10 542.24,98.57 542.73,98.04 543.23,97.50 543.72,96.96 544.22,96.41 544.72,95.86 545.22,95.30 545.73,94.74 546.24,94.17 546.74,93.59 547.25,93.01 547.77,92.47 548.28,92.13 548.80,91.80 549.31,91.46 549.83,91.13 550.36,90.79 550.88,90.46 551.40,90.12 551.93,89.79 552.46,89.46 552.99,89.12 553.52,88.79 554.06,88.46 554.59,88.13 555.13,87.80 555.67,87.47 556.21,87.14 556.76,86.81 557.30,86.48 557.85,86.15 558.40,85.83 558.95,85.50 559.50,85.17 560.06,84.85 560.61,84.52 561.17,84.20 561.73,83.88 562.29,83.55 562.86,83.23 563.42,82.91 563.99,82.59 564.56,82.27 565.13,81.95 565.70,81.63 566.27,81.31 566.85,80.99 567.43,80.68 568.01,80.36 568.59,80.04 569.17,79.73 569.75,79.42 570.34,79.10 570.93,78.79 571.52,78.48 572.11,78.17 572.70,77.86 573.30,77.55 573.89,77.24 574.49,76.93 575.09,76.62 575.69,76.32 576.29,76.01 576.90,75.71 577.51,75.40 578.11,75.10 578.72,74.80 579.34,74.50 579.95,74.19 580.56,73.89 581.18,73.60 581.80,73.30 582.42,73.00 583.04,72.70 583.66,72.41 584.29,72.11 584.92,71.82 585.54,71.52 586.17,71.23 586.81,70.94 587.44,70.64 588.07,70.35 588.71,70.06 589.35,69.77 589.99,69.49 590.63,69.20 591.27,68.91 591.92,68.63 592.56,68.34 593.21,68.06 593.86,67.77 594.51,67.49 595.17,67.21 595.82,66.93 596.48,66.65 597.13,66.37 597.79,66.09 598.45,65.81 599.12,65.53 599.78,65.26 600.45,64.98 601.11,64.71 601.78,64.43 602.45,64.16 603.12,63.89 603.80,63.62 604.47,63.34 605.15,63.07 605.83,62.81 606.51,62.54 607.19,62.27 607.87,62.00 608.55,61.74 609.24,61.47 609.93,61.21 610.62,60.94 611.31,60.68 612.00,60.42 612.69,60.15 613.39,59.89 614.09,59.63 614.78,59.37 615.48,59.12 616.19,58.86 616.89,58.60 617.59,58.34 618.30,58.09 619.01,57.83 619.72,57.58 620.43,57.33 621.14,57.07 621.85,56.82 622.57,56.57 623.28,56.32 624.00,56.07 624.72,55.82 625.44,55.57 626.16,55.33 626.89,55.08 627.61,54.83 628.34,54.59 629.07,54.34 629.80,54.10 630.53,53.86 631.27,53.62 632.00,53.37 632.74,53.13 633.47,52.89 634.21,52.65 634.95,52.41 635.70,52.18 636.44,51.94 637.18,51.70 637.93,51.47 638.68,51.23 639.43,51.00 640.18,50.76 640.93,50.53 641.68,50.30 642.44,50.06 643.20,49.83 643.95,49.60 644.71,49.37 645.48,49.14 646.24,48.92 647.00,48.69 647.77,48.46 648.53,48.23 649.30,48.01 650.07,47.78 650.84,47.56 651.62,47.34 652.39,47.11 653.17,46.89 653.94,46.67 654.72,46.45 655.50,46.23 656.28,46.01 657.06,45.79 657.85,45.57 658.63,45.35 659.42,45.13 660.21,44.92 661.00,44.70 661.79,44.48 662.58,44.27 663.38,44.05 664.17,43.84 664.97,43.63 665.77,43.41 666.57,43.20 667.37,42.99 668.17,42.78 668.97,42.57 669.78,42.36 670.59,42.15 671.39,41.94 672.20,41.73 673.01,41.52 673.83,41.31 674.64,41.11 675.45,40.90 676.27,40.69 677.09,40.49 677.91,40.28 678.73,40.08 679.55,39.87 680.37,39.67 681.20,39.47 682.02,39.27 682.85,39.06 683.68,38.86 684.51,38.66 685.34,38.46 686.17,38.26 687.01,38.06 687.84,37.86 688.68,37.66 689.52,37.46 690.36,37.27 691.20,37.07 692.04,36.87 692.89,36.68 693.73,36.48 694.58,36.28 695.43,36.09 696.27,35.89 697.13,35.70 697.98,35.51 698.83,35.31 699.68,35.12 700.54,34.93 701.40,34.73 702.26,34.54 703.12,34.35 703.98,34.16 704.84,33.97 705.70,33.78 706.57,33.59 707.44,33.40 708.30,33.21 709.17,33.02 710.04,32.83 710.92,32.65 711.79,32.46 712.66,32.27 713.54,32.09 714.42,31.90 715.30,31.71 716.18,31.53 717.06,31.34 717.94,31.16 718.82,30.97 719.71,30.79 720.59,30.60 721.48,30.42 722.37,30.24 723.26,30.06 724.15,29.87 725.05,29.69 725.94,29.51 726.84,29.33 727.73,29.15 728.63,28.97 729.53,28.79 730.43,28.61 731.33,28.43 732.24,28.25 733.14,28.07 734.05,27.89 734.95,27.71 735.86,27.53 736.77,27.36 737.68,27.18 738.60,27.00 739.51,26.82 740.42,26.65 741.34,26.47 742.26,26.30 743.18,26.12 744.10,25.95 745.02,25.77 745.94,25.60 746.87,25.42 747.79,25.25 748.72,25.07 749.64,24.90 750.57,24.73 751.50,24.56 752.44,24.38 753.37,24.21 754.30,24.04 755.24,23.87 756.17,23.70 757.11,23.52 758.05,23.35 758.99,23.18 759.93,23.01 760.88,22.84 761.82,22.67 762.77,22.50 763.71,22.34 764.66,22.17 765.61,22.00 766.56,21.83 767.51,21.66 768.46,21.49 769.42,21.33 770.37,21.16 771.33,20.99 772.29,20.83 773.25,20.66 774.21,20.49 775.17,20.33 776.13,20.16 777.10,20.00 778.06,19.83 779.03,19.67 780.00,19.50 780.97,19.34 781.94,19.17 782.91,19.01 783.88,18.85 784.86,18.68 785.83,18.52 786.81,18.36 787.79,18.19 788.76,18.03 789.74,17.87 790.73,17.71 791.71,17.54 792.69,17.38 793.68,17.22 794.66,17.06 795.65,16.90 796.64,16.74 797.63,16.58 798.62,16.42 799.61,16.26 800.61,16.10 801.60,15.94 802.60,15.78 803.60,15.62 804.59,15.46 805.59,15.30 806.59,15.15 807.60,14.99 808.60,14.83 809.80,14.64" stroke="#ff0000" stroke-width="1.5"/>
<polyline points="495.50,204.30 495.52,204.24 495.55,204.12 495.59,203.96 495.64,203.76 495.70,203.52 495.77,203.26 495.84,202.97 495.92,202.65 496.01,202.30 496.10,201.93 496.20,201.54 496.30,201.12 496.41,200.67 496.53,200.21 496.65,199.72 496.77,199.21 496.90,198.68 497.04,198.12 497.18,197.55 497.32,196.95 497.47,196.33 497.62,195.70 497.78,195.04 497.94,194.36 498.10,193.65 498.27,192.93 498.44,192.19 498.62,191.43 498.80,190.64 498.98,189.84 499.17,189.02 499.36,188.17 499.56,187.31 499.76,186.42 499.96,185.52 500.16,184.59 500.37,183.65 500.59,182.68 500.80,181.70 501.02,180.69 501.24,179.67 501.47,178.62 501.70,177.56 501.93,176.48 502.17,175.37 502.40,174.25 502.65,173.11 502.89,171.95 503.14,170.77 503.39,169.57 503.64,168.29 503.90,166.95 504.16,165.54 504.42,164.09 504.69,162.61 504.96,161.11 505.23,159.61 505.50,158.14 505.78,156.71 506.06,155.34 506.35,154.05 506.63,152.86 506.92,151.78 507.21,150.72 507.51,149.68 507.80,148.66 508.10,147.67 508.40,146.69 508.71,145.74 509.02,144.81 509.33,143.90 509.64,143.01 509.96,142.14 510.27,141.28 510.59,140.44 510.92,139.62 511.24,138.81 511.57,138.02 511.90,137.24 512.24,136.47 512.57,135.71 512.91,134.97 513.25,134.23 513.60,133.51 513.94,132.79 514.29,132.09 514.64,131.40 514.99,130.73 515.35,130.06 515.71,129.40 516.07,128.76 516.43,128.13 516.80,127.51 517.16,126.90 517.53,126.30 517.91,125.71 518.28,125.13 518.66,124.56 519.04,124.01 519.42,123.45 519.80,122.91 520.19,122.38 520.58,121.85 520.97,121.33 521.36,120.82 521.75,120.31 522.15,119.81 522.55,119.32 522.95,118.83 523.36,118.34 523.76,117.86 524.17,117.39 524.58,116.91 525.00,116.44 525.41,115.98 525.83,115.51 526.25,115.05 526.67,114.59 527.09,114.12 527.52,113.66 527.95,113.20 528.38,112.73 528.81,112.27 529.24,111.81 529.68,111.35 530.12,110.90 530.56,110.46 531.00,110.02 531.45,109.58 531.89,109.15 532.34,108.71 532.79,108.28 533.25,107.86 533.70,107.43 534.16,107.00 534.62,106.57 535.08,106.15 535.54,105.72 536.01,105.29 536.48,104.86 536.95,104.42 537.42,103.98 537.89,103.53 538.36,103.08 538.84,102.63 539.32,102.16 539.80,101.69 540.29,101.22 540.77,100.73 541.26,100.23 541.75,99.73 542.24,99.23 542.73,98.72 543.23,98.21 543.72,97.69 544.22,97.16 544.72,96.64 545.22,96.10 545.73,95.57 546.24,95.02 546.74,94.48 547.25,93.93 547.77,93.42 548.28,93.10 548.80,92.79 549.31,92.48 549.83,92.16 550.36,91.85 550.88,91.54 551.40,91.22 551.93,90.91 552.46,90.60 552.99,90.29 553.52,89.97 554.06,89.66 554.59,89.35 555.13,89.04 555.67,88.73 556.21,88.42 556.76,88.11 557.30,87.80 557.85,87.49 558.40,87.19 558.95,86.88 559.50,86.57 560.06,86.26 560.61,85.96 561.17,85.65 561.73,85.35 562.29,85.04 562.86,84.74 563.42,84.44 563.99,84.13 564.56,83.83 565.13,83.53 565.70,83.23 566.27,82.93 566.85,82.63 567.43,82.33 568.01,82.03 568.59,81.73 569.17,81.44 569.75,81.14 570.34,80.84 570.93,80.55 571.52,80.25 572.11,79.96 572.70,79.67 573.30,79.37 573.89,79.08 574.49,78.79 575.09,78.50 575.69,78.21 576.29,77.92 576.90,77.63 577.51,77.35 578.11,77.06 578.72,76.77 579.34,76.49 579.95,76.20 580.56,75.92 581.18,75.64 581.80,75.35 582.42,75.07 583.04,74.79 583.66,74.51 584.29,74.23 584.92,73.95 585.54,73.67 586.17,73.40 586.81,73.12 587.44,72.84 588.07,72.57 588.71,72.30 589.35,72.02 589.99,71.75 590.63,71.48 591.27,71.21 591.92,70.93 592.56,70.67 593.21,70.40 593.86,70.13 594.51,69.86 595.17,69.59 595.82,69.33 596.48,69.06 597.13,68.80 597.79,68.53 598.45,68.27 599.12,68.01 599.78,67.75 600.45,67.49 601.11,67.23 601.78,66.97 602.45,66.71 603.12,66.45 603.80,66.19 604.47,65.94 605.15,65.68 605.83,65.43 606.51,65.17 607.19,64.92 607.87,64.67 608.55,64.42 609.24,64.17 609.93,63.92 610.62,63.67 611.31,63.42 612.00,63.17 612.69,62.92 613.39,62.68 614.09,62.43 614.78,62.18 615.48,61.94 616.19,61.70 616.89,61.45 617.59,61.21 618.30,60.97 619.01,60.73 619.72,60.49 620.43,60.25 621.14,60.01 621.85,59.77 622.57,59.54 623.28,59.30 624.00,59.06 624.72,58.83 625.44,58.60 626.16,58.36 626.89,58.13 627.61,57.90 628.34,57.67 629.07,57.43 629.80,57.20 630.53,56.98 631.27,56.75 632.00,56.52 632.74,56.29 633.47,56.07 634.21,55.84 634.95,55.61 635.70,55.39 636.44,55.17 637.18,54.94 637.93,54.72 638.68,54.50 639.43,54.28 640.18,54.06 640.93,53.84 641.68,53.62 642.44,53.40 643.20,53.18 643.95,52.97 644.71,52.75 645.48,52.53 646.24,52.32 647.00,52.11 647.77,51.89 648.53,51.68 649.30,51.47 650.07,51.25 650.84,51.04 651.62,50.83 652.39,50.62 653.17,50.41 653.94,50.21 654.72,50.00 655.50,49.79 656.28,49.58 657.06,49.38 657.85,49.17 658.63,48.97 659.42,48.76 660.21,48.56 661.00,48.36 661.79,48.16 662.58,47.95 663.38,47.75 664.17,47.55 664.97,47.35 665.77,47.15 666.57,46.95 667.37,46.76 668.17,46.56 668.97,46.36 669.78,46.17 670.59,45.97 671.39,45.77 672.20,45.58 673.01,45.39 673.83,45.19 674.64,45.00 675.45,44.81 676.27,44.61 677.09,44.42 677.91,44.23 678.73,44.04 679.55,43.85 680.37,43.66 681.20,43.47 682.02,43.29 682.85,43.10 683.68,42.91 684.51,42.73 685.34,42.54 686.17,42.35 687.01,42.17 687.84,41.98 688.68,41.80 689.52,41.62 690.36,41.43 691.20,41.25 692.04,41.07 692.89,40.89 693.73,40.71 694.58,40.53 695.43,40.35 696.27,40.17 697.13,39.99 697.98,39.81 698.83,39.63 699.68,39.46 700.54,39.28 701.40,39.10 702.26,38.93 703.12,38.75 703.98,38.58 704.84,38.40 705.70,38.23 706.57,38.05 707.44,37.88 708.30,37.71 709.17,37.54 710.04,37.36 710.92,37.19 711.79,37.02 712.66,36.85 713.54,36.68 714.42,36.51 715.30,36.34 716.18,36.17 717.06,36.01 717.94,35.84 718.82,35.67 719.71,35.50 720.59,35.34 721.48,35.17 722.37,35.01 723.26,34.84 724.15,34.68 725.05,34.51 725.94,34.35 726.84,34.19 727.73,34.02 728.63,33.86 729.53,33.70 730.43,33.54 731.33,33.37 732.24,33.21 733.14,33.05 734.05,32.89 734.95,32.73 735.86,32.57 736.77,32.42 737.68,32.26 738.60,32.10 739.51,31.94 740.42,31.78 741.34,31.63 742.26,31.47 743.18,31.32 744.10,31.16 745.02,31.00 745.94,30.85 746.87,30.70 747.79,30.54 748.72,30.39 749.64,30.23 750.57,30.08 751.50,29.93 752.44,29.78 753.37,29.62 754.30,29.47 755.24,29.32 756.17,29.17 757.11,29.02 758.05,28.87 758.99,28.72 759.93,28.57 760.88,28.42 761.82,28.28 762.77,28.13 763.71,27.98 764.66,27.83 765.61,27.69 766.56,27.54 767.51,27.39 768.46,27.25 769.42,27.10 770.37,26.96 771.33,26.81 772.29,26.67 773.25,26.52 774.21,26.38 775.17,26.23 776.13,26.09 777.10,25.95 778.06,25.81 779.03,25.66 780.00,25.52 780.97,25.38 781.94,25.24 782.91,25.10 783.88,24.96 784.86,24.82 785.83,24.68 786.81,24.54 787.79,24.40 788.76,24.26 789.74,24.12 790.73,23.98 791.71,23.85 792.69,23.71 793.68,23.57 794.66,23.44 795.65,23.30 796.64,23.16 797.63,23.03 798.62,22.89 799.61,22.76 800.61,22.62 801.60,22.49 802.60,22.35 803.60,22.22 804.59,22.08 805.59,21.95 806.59,21.82 807.60,21.68 808.60,21.55 809.80,21.39" stroke="#00aa00" stroke-dasharray="12.5 1.5"/>
<polyline points="495.50,204.30 495.52,204.24 495.55,204.12 495.59,203.96 495.64,203.76 495.70,203.52 495.77,203.26 495.84,202.97 495.92,202.65 496.01,202.30 496.10,201.93 496.20,201.54 496.30,201.12 496.41,200.67 496.53,200.21 496.65,199.72 496.77,199.21 496.90,198.68 497.04,198.12 497.18,197.55 497.32,196.95 497.47,196.33 497.62,195.70 497.78,195.04 497.94,194.36 498.10,193.65 498.27,192.93 498.44,192.19 498.62,191.43 498.80,190.64 498.98,189.84 499.17,189.02 499.36,188.17 499.56,187.31 499.76,186.42 499.96,185.52 500.16,184.59 500.37,183.65 500.59,182.68 500.80,181.70 501.02,180.69 501.24,179.67 501.47,178.62 501.70,177.56 501.93,176.48 502.17,175.37 502.40,174.25 502.65,173.11 502.89,171.95 503.14,170.77 503.39,169.57 503.64,168.29 503.90,166.94 504.16,165.54 504.42,164.08 504.69,162.60 504.96,161.10 505.23,159.60 505.50,158.13 505.78,156.69 506.06,155.32 506.35,154.04 506.63,152.86 506.92,151.78 507.21,150.73 507.51,149.70 507.80,148.69 508.10,147.71 508.40,146.75 508.71,145.81 509.02,144.89 509.33,143.99 509.64,143.11 509.96,142.25 510.27,141.40 510.59,140.58 510.92,139.77 511.24,138.97 511.57,138.19 511.90,137.42 512.24,136.67 512.57,135.92 512.91,135.18 513.25,134.46 513.60,133.74 513.94,133.04 514.29,132.35 514.64,131.67 514.99,131.01 515.35,130.35 515.71,129.71 516.07,129.07 516.43,128.45 516.80,127.84 517.16,127.24 517.53,126.66 517.91,126.08 518.28,125.52 518.66,124.96 519.04,124.42 519.42,123.88 519.80,123.36 520.19,122.84 520.58,122.33 520.97,121.82 521.36,121.33 521.75,120.84 522.15,120.35 522.55,119.87 522.95,119.40 523.36,118.93 523.76,118.47 524.17,118.01 524.58,117.56 525.00,117.11 525.41,116.66 525.83,116.21 526.25,115.76 526.67,115.32 527.09,114.87 527.52,114.42 527.95,113.98 528.38,113.53 528.81,113.08 529.24,112.63 529.68,112.19 530.12,111.76 530.56,111.32 531.00,110.90 531.45,110.47 531.89,110.05 532.34,109.63 532.79,109.21 533.25,108.79 533.70,108.38 534.16,107.96 534.62,107.55 535.08,107.13 535.54,106.71 536.01,106.30 536.48,105.88 536.95,105.46 537.42,105.03 537.89,104.60 538.36,104.17 538.84,103.74 539.32,103.29 539.80,102.85 540.29,102.39 540.77,101.93 541.26,101.47 541.75,101.00 542.24,100.52 542.73,100.05 543.23,99.57 543.72,99.09 544.22,98.60 544.72,98.12 545.22,97.63 545.73,97.13 546.24,96.64 546.74,96.14 547.25,95.63 547.77,95.17 548.28,94.91 548.80,94.65 549.31,94.39 549.83,94.13 550.36,93.88 550.88,93.62 551.40,93.36 551.93,93.10 552.46,92.84 552.99,92.59 553.52,92.33 554.06,92.07 554.59,91.82 555.13,91.56 555.67,91.30 556.21,91.05 556.76,90.79 557.30,90.54 557.85,90.28 558.40,90.03 558.95,89.78 559.50,89.52 560.06,89.27 560.61,89.02 561.17,88.77 561.73,88.52 562.29,88.27 562.86,88.02 563.42,87.77 563.99,87.52 564.56,87.27 565.13,87.02 565.70,86.78 566.27,86.53 566.85,86.28 567.43,86.04 568.01,85.79 568.59,85.55 569.17,85.31 569.75,85.06 570.34,84.82 570.93,84.58 571.52,84.34 572.11,84.10 572.70,83.86 573.30,83.62 573.89,83.38 574.49,83.14 575.09,82.90 575.69,82.67 576.29,82.43 576.90,82.19 577.51,81.96 578.11,81.73 578.72,81.49 579.34,81.26 579.95,81.03 580.56,80.80 581.18,80.57 581.80,80.34 582.42,80.11 583.04,79.88 583.66,79.65 584.29,79.42 584.92,79.20 585.54,78.97 586.17,78.74 586.81,78.52 587.44,78.30 588.07,78.07 588.71,77.85 589.35,77.63 589.99,77.41 590.63,77.19 591.27,76.97 591.92,76.75 592.56,76.53 593.21,76.31 593.86,76.09 594.51,75.88 595.17,75.66 595.82,75.45 596.48,75.23 597.13,75.02 597.79,74.81 598.45,74.60 599.12,74.38 599.78,74.17 600.45,73.96 601.11,73.75 601.78,73.55 602.45,73.34 603.12,73.13 603.80,72.92 604.47,72.72 605.15,72.51 605.83,72.31 606.51,72.10 607.19,71.90 607.87,71.70 608.55,71.50 609.24,71.30 609.93,71.10 610.62,70.90 611.31,70.70 612.00,70.50 612.69,70.30 613.39,70.10 614.09,69.91 614.78,69.71 615.48,69.52 616.19,69.32 616.89,69.13 617.59,68.94 618.30,68.74 619.01,68.55 619.72,68.36 620.43,68.17 621.14,67.98 621.85,67.79 622.57,67.61 623.28,67.42 624.00,67.23 624.72,67.04 625.44,66.86 626.16,66.67 626.89,66.49 627.61,66.31 628.34,66.12 629.07,65.94 629.80,65.76 630.53,65.58 631.27,65.40 632.00,65.22 632.74,65.04 633.47,64.86 634.21,64.68 634.95,64.51 635.70,64.33 636.44,64.15 637.18,63.98 637.93,63.80 638.68,63.63 639.43,63.45 640.18,63.28 640.93,63.11 641.68,62.94 642.44,62.77 643.20,62.60 643.95,62.43 644.71,62.26 645.48,62.09 646.24,61.92 647.00,61.75 647.77,61.59 648.53,61.42 649.30,61.26 650.07,61.09 650.84,60.93 651.62,60.76 652.39,60.60 653.17,60.44 653.94,60.27 654.72,60.11 655.50,59.95 656.28,59.79 657.06,59.63 657.85,59.47 658.63,59.32 659.42,59.16 660.21,59.00 661.00,58.84 661.79,58.69 662.58,58.53 663.38,58.38 664.17,58.22 664.97,58.07 665.77,57.91 666.57,57.76 667.37,57.61 668.17,57.46 668.97,57.31 669.78,57.16 670.59,57.01 671.39,56.86 672.20,56.71 673.01,56.56 673.83,56.41 674.64,56.26 675.45,56.12 676.27,55.97 677.09,55.83 677.91,55.68 678.73,55.54 679.55,55.39 680.37,55.25 681.20,55.11 682.02,54.96 682.85,54.82 683.68,54.68 684.51,54.54 685.34,54.40 686.17,54.26 687.01,54.12 687.84,53.98 688.68,53.84 689.52,53.70 690.36,53.57 691.20,53.43 692.04,53.29 692.89,53.16 693.73,53.02 694.58,52.89 695.43,52.75 696.27,52.62 697.13,52.49 697.98,52.35 698.83,52.22 699.68,52.09 700.54,51.96 701.40,51.83 702.26,51.70 703.12,51.57 703.98,51.44 704.84,51.31 705.70,51.18 706.57,51.05 707.44,50.92 708.30,50.80 709.17,50.67 710.04,50.54 710.92,50.42 711.79,50.29 712.66,50.17 713.54,50.04 714.42,49.92 715.30,49.80 716.18,49.67 717.06,49.55 717.94,49.43 718.82,49.31 719.71,49.19 720.59,49.07 721.48,48.95 722.37,48.83 723.26,48.71 724.15,48.59 725.05,48.47 725.94,48.35 726.84,48.23 727.73,48.12 728.63,48.00 729.53,47.89 730.43,47.77 731.33,47.65 732.24,47.54 733.14,47.42 734.05,47.31 734.95,47.20 735.86,47.08 736.77,46.97 737.68,46.86 738.60,46.75 739.51,46.64 740.42,46.52 741.34,46.41 742.26,46.30 743.18,46.19 744.10,46.09 745.02,45.98 745.94,45.87 746.87,45.76 747.79,45.65 748.72,45.54 749.64,45.44 750.57,45.33 751.50,45.22 752.44,45.12 753.37,45.01 754.30,44.91 755.24,44.80 756.17,44.70 757.11,44.60 758.05,44.49 758.99,44.39 759.93,44.29 760.88,44.19 761.82,44.08 762.77,43.98 763.71,43.88 764.66,43.78 765.61,43.68 766.56,43.58 767.51,43.48 768.46,43.38 769.42,43.28 770.37,43.19 771.33,43.09 772.29,42.99 773.25,42.89 774.21,42.80 775.17,42.70 776.13,42.60 777.10,42.51 778.06,42.41 779.03,42.32 780.00,42.22 780.97,42.13 781.94,42.03 782.91,41.94 783.88,41.85 784.86,41.75 785.83,41.66 786.81,41.57 787.79,41.48 788.76,41.39 789.74,41.30 790.73,41.21 791.71,41.12 792.69,41.03 793.68,40.94 794.66,40.85 795.65,40.76 796.64,40.67 797.63,40.58 798.62,40.49 799.61,40.40 800.61,40.32 801.60,40.23 802.60,40.14 803.60,40.06 804.59,39.97 805.59,39.89 806.59,39.80 807.60,39.72 808.60,39.63 809.80,39.53" stroke="#808080" stroke-dasharray="6.9 4.55"/>
<polyline points="495.50,204.30 495.52,204.24 495.55,204.12 495.59,203.95 495.64,203.75 495.70,203.52 495.77,203.25 495.84,202.95 495.92,202.63 496.01,202.28 496.10,201.91 496.20,201.51 496.30,201.09 496.41,200.64 496.53,200.17 496.65,199.68 496.77,199.17 496.90,198.63 497.04,198.08 497.18,197.50 497.32,196.90 497.47,196.28 497.62,195.64 497.78,194.98 497.94,194.29 498.10,193.59 498.27,192.87 498.44,192.12 498.62,191.36 498.80,190.58 498.98,189.77 499.17,188.95 499.36,188.10 499.56,187.24 499.76,186.36 499.96,185.45 500.16,184.53 500.37,183.59 500.59,182.62 500.80,181.64 501.02,180.64 501.24,179.62 501.47,178.58 501.70,177.52 501.93,176.44 502.17,175.34 502.40,174.23 502.65,173.09 502.89,171.94 503.14,170.76 503.39,169.57 503.64,168.30 503.90,166.95 504.16,165.55 504.42,164.09 504.69,162.61 504.96,161.11 505.23,159.63 505.50,158.17 505.78,156.76 506.06,155.42 506.35,154.17 506.63,153.05 506.92,152.03 507.21,151.05 507.51,150.08 507.80,149.15 508.10,148.23 508.40,147.34 508.71,146.47 509.02,145.63 509.33,144.80 509.64,143.99 509.96,143.20 510.27,142.43 510.59,141.67 510.92,140.93 511.24,140.20 511.57,139.48 511.90,138.77 512.24,138.07 512.57,137.37 512.91,136.68 513.25,135.99 513.60,135.31 513.94,134.64 514.29,133.97 514.64,133.31 514.99,132.67 515.35,132.03 515.71,131.40 516.07,130.78 516.43,130.17 516.80,129.58 517.16,128.99 517.53,128.42 517.91,127.86 518.28,127.31 518.66,126.77 519.04,126.25 519.42,125.74 519.80,125.24 520.19,124.75 520.58,124.27 520.97,123.80 521.36,123.34 521.75,122.88 522.15,122.44 522.55,121.99 522.95,121.56 523.36,121.13 523.76,120.71 524.17,120.30 524.58,119.89 525.00,119.49 525.41,119.09 525.83,118.70 526.25,118.31 526.67,117.93 527.09,117.55 527.52,117.18 527.95,116.81 528.38,116.46 528.81,116.13 529.24,115.81 529.68,115.49 530.12,115.17 530.56,114.86 531.00,114.55 531.45,114.24 531.89,113.93 532.34,113.61 532.79,113.30 533.25,112.98 533.70,112.66 534.16,112.34 534.62,112.01 535.08,111.67 535.54,111.32 536.01,110.97 536.48,110.60 536.95,110.22 537.42,109.83 537.89,109.43 538.36,109.05 538.84,108.65 539.32,108.26 539.80,107.86 540.29,107.46 540.77,107.06 541.26,106.66 541.75,106.26 542.24,105.85 542.73,105.45 543.23,105.05 543.72,104.65 544.22,104.25 544.72,103.85 545.22,103.46 545.73,103.07 546.24,102.69 546.74,102.31 547.25,101.94 547.77,101.56 548.28,101.17 548.80,100.78 549.31,100.39 549.83,100.00 550.36,99.63 550.88,99.25 551.40,98.88 551.93,98.51 552.46,98.15 552.99,97.79 553.52,97.44 554.06,97.09 554.59,96.74 555.13,96.40 555.67,96.06 556.21,95.72 556.76,95.39 557.30,95.06 557.85,94.73 558.40,94.41 558.95,94.09 559.50,93.77 560.06,93.46 560.61,93.15 561.17,92.84 561.73,92.54 562.29,92.24 562.86,91.94 563.42,91.65 563.99,91.36 564.56,91.07 565.13,90.78 565.70,90.50 566.27,90.22 566.85,89.94 567.43,89.66 568.01,89.39 568.59,89.12 569.17,88.85 569.75,88.59 570.34,88.33 570.93,88.07 571.52,87.81 572.11,87.55 572.70,87.30 573.30,87.05 573.89,86.80 574.49,86.56 575.09,86.31 575.69,86.07 576.29,85.83 576.90,85.59 577.51,85.36 578.11,85.13 578.72,84.89 579.34,84.67 579.95,84.44 580.56,84.21 581.18,83.99 581.80,83.77 582.42,83.55 583.04,83.33 583.66,83.12 584.29,82.90 584.92,82.69 585.54,82.48 586.17,82.27 586.81,82.07 587.44,81.86 588.07,81.66 588.71,81.46 589.35,81.26 589.99,81.06 590.63,80.86 591.27,80.67 591.92,80.47 592.56,80.28 593.21,80.09 593.86,79.90 594.51,79.72 595.17,79.53 595.82,79.34 596.48,79.16 597.13,78.98 597.79,78.80 598.45,78.62 599.12,78.44 599.78,78.27 600.45,78.09 601.11,77.92 601.78,77.75 602.45,77.58 603.12,77.41 603.80,77.24 604.47,77.07 605.15,76.91 605.83,76.74 606.51,76.58 607.19,76.42 607.87,76.26 608.55,76.10 609.24,75.94 609.93,75.78 610.62,75.63 611.31,75.47 612.00,75.32 612.69,75.17 613.39,75.02 614.09,74.87 614.78,74.72 615.48,74.57 616.19,74.42 616.89,74.28 617.59,74.13 618.30,73.99 619.01,73.84 619.72,73.70 620.43,73.56 621.14,73.42 621.85,73.28 622.57,73.14 623.28,73.00 624.00,72.87 624.72,72.73 625.44,72.60 626.16,72.47 626.89,72.33 627.61,72.20 628.34,72.07 629.07,71.94 629.80,71.81 630.53,71.68 631.27,71.55 632.00,71.43 632.74,71.30 633.47,71.18 634.21,71.05 634.95,70.93 635.70,70.81 636.44,70.69 637.18,70.56 637.93,70.44 638.68,70.33 639.43,70.21 640.18,70.09 640.93,69.97 641.68,69.86 642.44,69.74 643.20,69.62 643.95,69.51 644.71,69.40 645.48,69.28 646.24,69.17 647.00,69.06 647.77,68.95 648.53,68.84 649.30,68.73 650.07,68.62 650.84,68.51 651.62,68.41 652.39,68.30 653.17,68.19 653.94,68.09 654.72,67.98 655.50,67.88 656.28,67.77 657.06,67.67 657.85,67.57 658.63,67.47 659.42,67.37 660.21,67.27 661.00,67.17 661.79,67.07 662.58,66.97 663.38,66.87 664.17,66.77 664.97,66.67 665.77,66.58 666.57,66.48 667.37,66.39 668.17,66.29 668.97,66.20 669.78,66.10 670.59,66.01 671.39,65.92 672.20,65.82 673.01,65.73 673.83,65.64 674.64,65.55 675.45,65.46 676.27,65.37 677.09,65.28 677.91,65.19 678.73,65.10 679.55,65.02 680.37,64.93 681.20,64.84 682.02,64.75 682.85,64.67 683.68,64.58 684.51,64.50 685.34,64.41 686.17,64.33 687.01,64.25 687.84,64.16 688.68,64.08 689.52,64.00 690.36,63.91 691.20,63.83 692.04,63.75 692.89,63.67 693.73,63.59 694.58,63.51 695.43,63.43 696.27,63.35 697.13,63.27 697.98,63.20 698.83,63.12 699.68,63.04 700.54,62.96 701.40,62.89 702.26,62.81 703.12,62.73 703.98,62.66 704.84,62.58 705.70,62.51 706.57,62.43 707.44,62.36 708.30,62.29 709.17,62.21 710.04,62.14 710.92,62.07 711.79,61.99 712.66,61.92 713.54,61.85 714.42,61.78 715.30,61.71 716.18,61.64 717.06,61.57 717.94,61.50 718.82,61.43 719.71,61.36 720.59,61.29 721.48,61.22 722.37,61.15 723.26,61.09 724.15,61.02 725.05,60.95 725.94,60.88 726.84,60.82 727.73,60.75 728.63,60.68 729.53,60.62 730.43,60.55 731.33,60.49 732.24,60.42 733.14,60.36 734.05,60.29 734.95,60.23 735.86,60.17 736.77,60.10 737.68,60.04 738.60,59.98 739.51,59.91 740.42,59.85 741.34,59.79 742.26,59.73 743.18,59.67 744.10,59.60 745.02,59.54 745.94,59.48 746.87,59.42 747.79,59.36 748.72,59.30 749.64,59.24 750.57,59.18 751.50,59.12 752.44,59.06 753.37,59.01 754.30,58.95 755.24,58.89 756.17,58.83 757.11,58.77 758.05,58.72 758.99,58.66 759.93,58.60 760.88,58.55 761.82,58.49 762.77,58.43 763.71,58.38 764.66,58.32 765.61,58.26 766.56,58.21 767.51,58.15 768.46,58.10 769.42,58.04 770.37,57.99 771.33,57.94 772.29,57.88 773.25,57.83 774.21,57.77 775.17,57.72 776.13,57.67 777.10,57.61 778.06,57.56 779.03,57.51 780.00,57.46 780.97,57.40 781.94,57.35 782.91,57.30 783.88,57.25 784.86,57.20 785.83,57.15 786.81,57.10 787.79,57.05 788.76,56.99 789.74,56.94 790.73,56.89 791.71,56.84 792.69,56.79 793.68,56.74 794.66,56.69 795.65,56.65 796.64,56.60 797.63,56.55 798.62,56.50 799.61,56.45 800.61,56.40 801.60,56.35 802.60,56.31 803.60,56.26 804.59,56.21 805.59,56.16 806.59,56.12 807.60,56.07 808.60,56.02 809.80,55.97" stroke="#000000" stroke-dasharray="5.2 1.15 1.9 1.15" stroke-width="1.8"/>
<polyline points="495.50,204.30 495.52,204.24 495.55,204.11 495.59,203.94 495.64,203.72 495.70,203.48 495.77,203.20 495.84,202.89 495.92,202.55 496.01,202.19 496.10,201.80 496.20,201.38 496.30,200.94 496.41,200.48 496.53,200.00 496.65,199.49 496.77,198.96 496.90,198.41 497.04,197.84 497.18,197.25 497.32,196.64 497.47,196.00 497.62,195.35 497.78,194.68 497.94,193.99 498.10,193.28 498.27,192.56 498.44,191.81 498.62,191.05 498.80,190.26 498.98,189.46 499.17,188.64 499.36,187.80 499.56,186.95 499.76,186.08 499.96,185.19 500.16,184.28 500.37,183.35 500.59,182.41 500.80,181.45 501.02,180.47 501.24,179.48 501.47,178.47 501.70,177.44 501.93,176.40 502.17,175.34 502.40,174.26 502.65,173.17 502.89,172.06 503.14,170.93 503.39,169.79 503.64,168.58 503.90,167.32 504.16,166.00 504.42,164.64 504.69,163.26 504.96,161.86 505.23,160.47 505.50,159.09 505.78,157.75 506.06,156.45 506.35,155.23 506.63,154.09 506.92,153.06 507.21,152.13 507.51,151.23 507.80,150.35 508.10,149.50 508.40,148.67 508.71,147.86 509.02,147.07 509.33,146.30 509.64,145.55 509.96,144.82 510.27,144.11 510.59,143.41 510.92,142.72 511.24,142.05 511.57,141.38 511.90,140.73 512.24,140.08 512.57,139.43 512.91,138.79 513.25,138.15 513.60,137.51 513.94,136.87 514.29,136.23 514.64,135.60 514.99,134.97 515.35,134.35 515.71,133.74 516.07,133.14 516.43,132.54 516.80,131.95 517.16,131.37 517.53,130.80 517.91,130.24 518.28,129.70 518.66,129.16 519.04,128.64 519.42,128.12 519.80,127.62 520.19,127.14 520.58,126.67 520.97,126.22 521.36,125.78 521.75,125.36 522.15,124.95 522.55,124.55 522.95,124.16 523.36,123.77 523.76,123.38 524.17,122.99 524.58,122.60 525.00,122.20 525.41,121.79 525.83,121.37 526.25,120.95 526.67,120.52 527.09,120.09 527.52,119.66 527.95,119.23 528.38,118.79 528.81,118.36 529.24,117.93 529.68,117.50 530.12,117.08 530.56,116.67 531.00,116.26 531.45,115.87 531.89,115.48 532.34,115.11 532.79,114.75 533.25,114.39 533.70,114.04 534.16,113.70 534.62,113.36 535.08,113.03 535.54,112.70 536.01,112.38 536.48,112.06 536.95,111.74 537.42,111.43 537.89,111.11 538.36,110.81 538.84,110.50 539.32,110.20 539.80,109.89 540.29,109.59 540.77,109.29 541.26,108.99 541.75,108.69 542.24,108.39 542.73,108.08 543.23,107.78 543.72,107.47 544.22,107.16 544.72,106.85 545.22,106.51 545.73,106.09 546.24,105.59 546.74,105.02 547.25,104.36 547.77,103.70 548.28,103.51 548.80,103.33 549.31,103.14 549.83,102.95 550.36,102.76 550.88,102.57 551.40,102.38 551.93,102.19 552.46,102.00 552.99,101.81 553.52,101.62 554.06,101.43 554.59,101.23 555.13,101.04 555.67,100.85 556.21,100.66 556.76,100.47 557.30,100.28 557.85,100.08 558.40,99.89 558.95,99.70 559.50,99.51 560.06,99.32 560.61,99.13 561.17,98.94 561.73,98.75 562.29,98.56 562.86,98.37 563.42,98.19 563.99,98.00 564.56,97.81 565.13,97.63 565.70,97.44 566.27,97.26 566.85,97.07 567.43,96.89 568.01,96.71 568.59,96.52 569.17,96.34 569.75,96.16 570.34,95.98 570.93,95.80 571.52,95.62 572.11,95.45 572.70,95.27 573.30,95.09 573.89,94.92 574.49,94.75 575.09,94.57 575.69,94.40 576.29,94.23 576.90,94.06 577.51,93.89 578.11,93.72 578.72,93.56 579.34,93.39 579.95,93.22 580.56,93.06 581.18,92.90 581.80,92.73 582.42,92.57 583.04,92.41 583.66,92.25 584.29,92.10 584.92,91.94 585.54,91.78 586.17,91.63 586.81,91.48 587.44,91.32 588.07,91.17 588.71,91.02 589.35,90.87 589.99,90.73 590.63,90.58 591.27,90.43 591.92,90.29 592.56,90.15 593.21,90.01 593.86,89.86 594.51,89.72 595.17,89.59 595.82,89.45 596.48,89.31 597.13,89.18 597.79,89.04 598.45,88.91 599.12,88.78 599.78,88.65 600.45,88.52 601.11,88.39 601.78,88.27 602.45,88.14 603.12,88.02 603.80,87.89 604.47,87.77 605.15,87.65 605.83,87.53 606.51,87.41 607.19,87.30 607.87,87.18 608.55,87.07 609.24,86.95 609.93,86.84 610.62,86.73 611.31,86.62 612.00,86.51 612.69,86.40 613.39,86.30 614.09,86.19 614.78,86.09 615.48,85.98 616.19,85.88 616.89,85.78 617.59,85.68 618.30,85.59 619.01,85.49 619.72,85.39 620.43,85.30 621.14,85.21 621.85,85.11 622.57,85.02 623.28,84.93 624.00,84.85 624.72,84.76 625.44,84.67 626.16,84.59 626.89,84.50 627.61,84.42 628.34,84.34 629.07,84.26 629.80,84.18 630.53,84.10 631.27,84.03 632.00,83.95 632.74,83.88 633.47,83.80 634.21,83.73 634.95,83.66 635.70,83.59 636.44,83.52 637.18,83.45 637.93,83.39 638.68,83.32 639.43,83.26 640.18,83.19 640.93,83.13 641.68,83.07 642.44,83.01 643.20,82.95 643.95,82.90 644.71,82.84 645.48,82.78 646.24,82.73 647.00,82.68 647.77,82.63 648.53,82.57 649.30,82.52 650.07,82.48 650.84,82.43 651.62,82.38 652.39,82.34 653.17,82.29 653.94,82.25 654.72,82.21 655.50,82.17 656.28,82.13 657.06,82.09 657.85,82.05 658.63,82.01 659.42,81.98 660.21,81.94 661.00,81.91 661.79,81.88 662.58,81.84 663.38,81.81 664.17,81.78 664.97,81.76 665.77,81.73 666.57,81.70 667.37,81.68 668.17,81.65 668.97,81.63 669.78,81.61 670.59,81.58 671.39,81.56 672.20,81.54 673.01,81.53 673.83,81.51 674.64,81.49 675.45,81.48 676.27,81.46 677.09,81.45 677.91,81.44 678.73,81.43 679.55,81.41 680.37,81.41 681.20,81.40 682.02,81.39 682.85,81.38 683.68,81.38 684.51,81.37 685.34,81.37 686.17,81.37 687.01,81.36 687.84,81.36 688.68,81.36 689.52,81.36 690.36,81.37 691.20,81.37 692.04,81.37 692.89,81.38 693.73,81.38 694.58,81.39 695.43,81.40 696.27,81.40 697.13,81.41 697.98,81.42 698.83,81.43 699.68,81.45 700.54,81.46 701.40,81.47 702.26,81.49 703.12,81.50 703.98,81.52 704.84,81.54 705.70,81.55 706.57,81.57 707.44,81.59 708.30,81.61 709.17,81.63 710.04,81.66 710.92,81.68 711.79,81.70 712.66,81.73 713.54,81.76 714.42,81.78 715.30,81.81 716.18,81.84 717.06,81.87 717.94,81.90 718.82,81.93 719.71,81.96 720.59,81.99 721.48,82.02 722.37,82.06 723.26,82.09 724.15,82.13 725.05,82.17 725.94,82.20 726.84,82.24 727.73,82.28 728.63,82.32 729.53,82.36 730.43,82.40 731.33,82.44 732.24,82.49 733.14,82.53 734.05,82.57 734.95,82.62 735.86,82.67 736.77,82.71 737.68,82.76 738.60,82.81 739.51,82.86 740.42,82.91 741.34,82.96 742.26,83.01 743.18,83.06 744.10,83.11 745.02,83.17 745.94,83.22 746.87,83.28 747.79,83.33 748.72,83.39 749.64,83.45 750.57,83.50 751.50,83.56 752.44,83.62 753.37,83.68 754.30,83.74 755.24,83.80 756.17,83.87 757.11,83.93 758.05,83.99 758.99,84.06 759.93,84.12 760.88,84.19 761.82,84.26 762.77,84.32 763.71,84.39 764.66,84.46 765.61,84.53 766.56,84.60 767.51,84.67 768.46,84.74 769.42,84.81 770.37,84.88 771.33,84.96 772.29,85.03 773.25,85.11 774.21,85.18 775.17,85.26 776.13,85.33 777.10,85.41 778.06,85.49 779.03,85.57 780.00,85.65 780.97,85.73 781.94,85.81 782.91,85.89 783.88,85.97 784.86,86.05 785.83,86.14 786.81,86.22 787.79,86.30 788.76,86.39 789.74,86.48 790.73,86.56 791.71,86.65 792.69,86.74 793.68,86.82 794.66,86.91 795.65,87.00 796.64,87.09 797.63,87.18 798.62,87.27 799.61,87.37 800.61,87.46 801.60,87.55 802.60,87.64 803.60,87.74 804.59,87.83 805.59,87.93 806.59,88.02 807.60,88.12 808.60,88.22 809.80,88.33" stroke="#0000ff" stroke-dasharray="2.3 1.3"/>
<polyline points="495.50,204.30 495.52,204.24 495.55,204.10 495.59,203.92 495.64,203.70 495.70,203.45 495.77,203.16 495.84,202.84 495.92,202.49 496.01,202.11 496.10,201.71 496.20,201.29 496.30,200.83 496.41,200.36 496.53,199.87 496.65,199.35 496.77,198.81 496.90,198.25 497.04,197.67 497.18,197.07 497.32,196.45 497.47,195.81 497.62,195.16 497.78,194.48 497.94,193.79 498.10,193.08 498.27,192.35 498.44,191.61 498.62,190.84 498.80,190.07 498.98,189.27 499.17,188.46 499.36,187.63 499.56,186.79 499.76,185.93 499.96,185.06 500.16,184.17 500.37,183.27 500.59,182.35 500.80,181.41 501.02,180.47 501.24,179.50 501.47,178.53 501.70,177.54 501.93,176.53 502.17,175.51 502.40,174.48 502.65,173.43 502.89,172.37 503.14,171.30 503.39,170.21 503.64,169.07 503.90,167.87 504.16,166.63 504.42,165.36 504.69,164.06 504.96,162.75 505.23,161.44 505.50,160.13 505.78,158.85 506.06,157.61 506.35,156.42 506.63,155.30 506.92,154.27 507.21,153.34 507.51,152.52 507.80,151.74 508.10,150.99 508.40,150.25 508.71,149.54 509.02,148.85 509.33,148.18 509.64,147.52 509.96,146.89 510.27,146.27 510.59,145.67 510.92,145.08 511.24,144.51 511.57,143.95 511.90,143.40 512.24,142.86 512.57,142.34 512.91,141.82 513.25,141.31 513.60,140.80 513.94,140.29 514.29,139.79 514.64,139.28 514.99,138.78 515.35,138.30 515.71,137.88 516.07,137.47 516.43,137.07 516.80,136.67 517.16,136.29 517.53,135.91 517.91,135.53 518.28,135.16 518.66,134.80 519.04,134.44 519.42,134.08 519.80,133.72 520.19,133.36 520.58,133.01 520.97,132.65 521.36,132.29 521.75,131.94 522.15,131.60 522.55,131.26 522.95,130.92 523.36,130.58 523.76,130.24 524.17,129.90 524.58,129.57 525.00,129.23 525.41,128.89 525.83,128.55 526.25,128.21 526.67,127.88 527.09,127.54 527.52,127.20 527.95,126.87 528.38,126.53 528.81,126.19 529.24,125.85 529.68,125.52 530.12,125.17 530.56,124.83 531.00,124.48 531.45,124.14 531.89,123.79 532.34,123.45 532.79,123.11 533.25,122.78 533.70,122.46 534.16,122.13 534.62,121.81 535.08,121.48 535.54,121.16 536.01,120.84 536.48,120.52 536.95,120.21 537.42,119.90 537.89,119.59 538.36,119.29 538.84,118.99 539.32,118.70 539.80,118.41 540.29,118.14 540.77,117.87 541.26,117.61 541.75,117.36 542.24,117.12 542.73,116.87 543.23,116.63 543.72,116.39 544.22,116.15 544.72,115.90 545.22,115.65 545.73,115.39 546.24,115.13 546.74,114.85 547.25,114.57 547.77,114.31 548.28,114.16 548.80,114.03 549.31,113.90 549.83,113.78 550.36,113.66 550.88,113.55 551.40,113.45 551.93,113.35 552.46,113.26 552.99,113.17 553.52,113.09 554.06,113.02 554.59,112.94 555.13,112.88 555.67,112.81 556.21,112.75 556.76,112.70 557.30,112.65 557.85,112.60 558.40,112.55 558.95,112.51 559.50,112.47 560.06,112.43 560.61,112.38 561.17,112.32 561.73,112.24 562.29,112.15 562.86,112.06 563.42,111.96 563.99,111.85 564.56,111.74 565.13,111.63 565.70,111.52 566.27,111.41 566.85,111.31 567.43,111.21 568.01,111.11 568.59,111.02 569.17,110.94 569.75,110.87 570.34,110.81 570.93,110.76 571.52,110.72 572.11,110.69 572.70,110.67 573.30,110.65 573.89,110.64 574.49,110.63 575.09,110.62 575.69,110.62 576.29,110.62 576.90,110.62 577.51,110.63 578.11,110.63 578.72,110.63 579.34,110.63 579.95,110.63 580.56,110.64 581.18,110.64 581.80,110.64 582.42,110.65 583.04,110.65 583.66,110.66 584.29,110.68 584.92,110.69 585.54,110.72 586.17,110.74 586.81,110.77 587.44,110.80 588.07,110.83 588.71,110.86 589.35,110.90 589.99,110.93 590.63,110.97 591.27,111.02 591.92,111.07 592.56,111.13 593.21,111.19 593.86,111.25 594.51,111.31 595.17,111.37 595.82,111.43 596.48,111.49 597.13,111.56 597.79,111.62 598.45,111.68 599.12,111.74 599.78,111.81 600.45,111.87 601.11,111.94 601.78,112.01 602.45,112.08 603.12,112.15 603.80,112.22 604.47,112.30 605.15,112.38 605.83,112.46 606.51,112.54 607.19,112.63 607.87,112.72 608.55,112.81 609.24,112.91 609.93,113.01 610.62,113.11 611.31,113.22 612.00,113.33 612.69,113.46 613.39,113.60 614.09,113.76 614.78,113.93 615.48,114.12 616.19,114.31 616.89,114.51 617.59,114.72 618.30,114.94 619.01,115.16 619.72,115.38 620.43,115.61 621.14,115.83 621.85,116.06 622.57,116.28 623.28,116.50 624.00,116.71 624.72,116.92 625.44,117.12 626.16,117.33 626.89,117.53 627.61,117.74 628.34,117.95 629.07,118.16 629.80,118.37 630.53,118.57 631.27,118.78 632.00,118.99 632.74,119.20 633.47,119.41 634.21,119.62 634.95,119.82 635.70,120.03 636.44,120.23 637.18,120.43 637.93,120.63 638.68,120.83 639.43,121.03 640.18,121.23 640.93,121.42 641.68,121.62 642.44,121.81 643.20,122.01 643.95,122.20 644.71,122.39 645.48,122.58 646.24,122.77 647.00,122.96 647.77,123.16 648.53,123.35 649.30,123.54 650.07,123.73 650.84,123.92 651.62,124.11 652.39,124.30 653.17,124.49 653.94,124.68 654.72,124.86 655.50,125.05 656.28,125.24 657.06,125.43 657.85,125.62 658.63,125.81 659.42,126.00 660.21,126.18 661.00,126.37 661.79,126.56 662.58,126.74 663.38,126.93 664.17,127.12 664.97,127.30 665.77,127.49 666.57,127.67 667.37,127.85 668.17,128.04 668.97,128.22 669.78,128.40 670.59,128.59 671.39,128.77 672.20,128.95 673.01,129.14 673.83,129.32 674.64,129.50 675.45,129.68 676.27,129.86 677.09,130.04 677.91,130.22 678.73,130.40 679.55,130.57 680.37,130.75 681.20,130.92 682.02,131.10 682.85,131.27 683.68,131.44 684.51,131.61 685.34,131.78 686.17,131.95 687.01,132.12 687.84,132.28 688.68,132.45 689.52,132.61 690.36,132.78 691.20,132.94 692.04,133.10 692.89,133.27 693.73,133.43 694.58,133.59 695.43,133.75 696.27,133.91 697.13,134.07 697.98,134.23 698.83,134.38 699.68,134.54 700.54,134.70 701.40,134.86 702.26,135.01 703.12,135.17 703.98,135.32 704.84,135.48 705.70,135.63 706.57,135.79 707.44,135.94 708.30,136.09 709.17,136.25 710.04,136.40 710.92,136.55 711.79,136.70 712.66,136.84 713.54,136.99 714.42,137.14 715.30,137.28 716.18,137.43 717.06,137.57 717.94,137.72 718.82,137.86 719.71,138.00 720.59,138.14 721.48,138.28 722.37,138.42 723.26,138.56 724.15,138.69 725.05,138.83 725.94,138.97 726.84,139.10 727.73,139.24 728.63,139.37 729.53,139.51 730.43,139.64 731.33,139.77 732.24,139.90 733.14,140.04 734.05,140.17 734.95,140.30 735.86,140.43 736.77,140.55 737.68,140.68 738.60,140.81 739.51,140.94 740.42,141.06 741.34,141.19 742.26,141.32 743.18,141.45 744.10,141.57 745.02,141.70 745.94,141.82 746.87,141.95 747.79,142.07 748.72,142.19 749.64,142.32 750.57,142.44 751.50,142.56 752.44,142.68 753.37,142.81 754.30,142.93 755.24,143.05 756.17,143.17 757.11,143.28 758.05,143.40 758.99,143.52 759.93,143.64 760.88,143.75 761.82,143.87 762.77,143.98 763.71,144.10 764.66,144.21 765.61,144.32 766.56,144.44 767.51,144.55 768.46,144.66 769.42,144.77 770.37,144.88 771.33,144.98 772.29,145.09 773.25,145.20 774.21,145.30 775.17,145.41 776.13,145.51 777.10,145.61 778.06,145.71 779.03,145.82 780.00,145.92 780.97,146.02 781.94,146.12 782.91,146.22 783.88,146.32 784.86,146.42 785.83,146.51 786.81,146.61 787.79,146.71 788.76,146.80 789.74,146.90 790.73,146.99 791.71,147.09 792.69,147.18 793.68,147.27 794.66,147.37 795.65,147.46 796.64,147.55 797.63,147.64 798.62,147.73 799.61,147.82 800.61,147.91 801.60,148.00 802.60,148.08 803.60,148.17 804.59,148.26 805.59,148.34 806.59,148.43 807.60,148.52 808.60,148.60 809.80,148.70" stroke="#b3b300" stroke-dasharray="4.25 1.45" stroke-width="1.8"/>
</g>
<g stroke="#929292" stroke-width="0.8" fill="none">
<rect x="495.5" y="10.5" width="313.1" height="193.8"/>
<path d="M495.50 204.3 v-3.8 M495.50 10.5 v3.8"/>
<path d="M508.55 204.3 v-2.3 M508.55 10.5 v2.3" stroke-width="0.6"/>
<path d="M521.59 204.3 v-2.3 M521.59 10.5 v2.3" stroke-width="0.6"/>
<path d="M534.64 204.3 v-2.3 M534.64 10.5 v2.3" stroke-width="0.6"/>
<path d="M547.68 204.3 v-3.8 M547.68 10.5 v3.8"/>
<path d="M560.73 204.3 v-2.3 M560.73 10.5 v2.3" stroke-width="0.6"/>
<path d="M573.77 204.3 v-2.3 M573.77 10.5 v2.3" stroke-width="0.6"/>
<path d="M586.82 204.3 v-2.3 M586.82 10.5 v2.3" stroke-width="0.6"/>
<path d="M599.87 204.3 v-3.8 M599.87 10.5 v3.8"/>
<path d="M612.91 204.3 v-2.3 M612.91 10.5 v2.3" stroke-width="0.6"/>
<path d="M625.96 204.3 v-2.3 M625.96 10.5 v2.3" stroke-width="0.6"/>
<path d="M639.00 204.3 v-2.3 M639.00 10.5 v2.3" stroke-width="0.6"/>
<path d="M652.05 204.3 v-3.8 M652.05 10.5 v3.8"/>
<path d="M665.10 204.3 v-2.3 M665.10 10.5 v2.3" stroke-width="0.6"/>
<path d="M678.14 204.3 v-2.3 M678.14 10.5 v2.3" stroke-width="0.6"/>
<path d="M691.19 204.3 v-2.3 M691.19 10.5 v2.3" stroke-width="0.6"/>
<path d="M704.23 204.3 v-3.8 M704.23 10.5 v3.8"/>
<path d="M717.28 204.3 v-2.3 M717.28 10.5 v2.3" stroke-width="0.6"/>
<path d="M730.33 204.3 v-2.3 M730.33 10.5 v2.3" stroke-width="0.6"/>
<path d="M743.37 204.3 v-2.3 M743.37 10.5 v2.3" stroke-width="0.6"/>
<path d="M756.42 204.3 v-3.8 M756.42 10.5 v3.8"/>
<path d="M769.46 204.3 v-2.3 M769.46 10.5 v2.3" stroke-width="0.6"/>
<path d="M782.51 204.3 v-2.3 M782.51 10.5 v2.3" stroke-width="0.6"/>
<path d="M795.55 204.3 v-2.3 M795.55 10.5 v2.3" stroke-width="0.6"/>
<path d="M808.60 204.3 v-3.8 M808.60 10.5 v3.8"/>
<path d="M495.5 204.30 h3.8"/><path d="M808.6 204.30 h-3.8" stroke="#a4a4a4"/>
<path d="M495.5 196.23 h2.3" stroke-width="0.6"/><path d="M808.6 196.23 h-2.3" stroke="#a4a4a4" stroke-width="0.6"/>
<path d="M495.5 188.15 h2.3" stroke-width="0.6"/><path d="M808.6 188.15 h-2.3" stroke="#a4a4a4" stroke-width="0.6"/>
<path d="M495.5 180.08 h2.3" stroke-width="0.6"/><path d="M808.6 180.08 h-2.3" stroke="#a4a4a4" stroke-width="0.6"/>
<path d="M495.5 172.00 h3.8"/><path d="M808.6 172.00 h-3.8" stroke="#a4a4a4"/>
<path d="M495.5 163.93 h2.3" stroke-width="0.6"/><path d="M808.6 163.93 h-2.3" stroke="#a4a4a4" stroke-width="0.6"/>
<path d="M495.5 155.85 h2.3" stroke-width="0.6"/><path d="M808.6 155.85 h-2.3" stroke="#a4a4a4" stroke-width="0.6"/>
<path d="M495.5 147.78 h2.3" stroke-width="0.6"/><path d="M808.6 147.78 h-2.3" stroke="#a4a4a4" stroke-width="0.6"/>
<path d="M495.5 139.70 h3.8"/><path d="M808.6 139.70 h-3.8" stroke="#a4a4a4"/>
<path d="M495.5 131.62 h2.3" stroke-width="0.6"/><path d="M808.6 131.62 h-2.3" stroke="#a4a4a4" stroke-width="0.6"/>
<path d="M495.5 123.55 h2.3" stroke-width="0.6"/><path d="M808.6 123.55 h-2.3" stroke="#a4a4a4" stroke-width="0.6"/>
<path d="M495.5 115.48 h2.3" stroke-width="0.6"/><path d="M808.6 115.48 h-2.3" stroke="#a4a4a4" stroke-width="0.6"/>
<path d="M495.5 107.40 h3.8"/><path d="M808.6 107.40 h-3.8" stroke="#a4a4a4"/>
<path d="M495.5 99.33 h2.3" stroke-width="0.6"/><path d="M808.6 99.33 h-2.3" stroke="#a4a4a4" stroke-width="0.6"/>
<path d="M495.5 91.25 h2.3" stroke-width="0.6"/><path d="M808.6 91.25 h-2.3" stroke="#a4a4a4" stroke-width="0.6"/>
<path d="M495.5 83.18 h2.3" stroke-width="0.6"/><path d="M808.6 83.18 h-2.3" stroke="#a4a4a4" stroke-width="0.6"/>
<path d="M495.5 75.10 h3.8"/><path d="M808.6 75.10 h-3.8" stroke="#a4a4a4"/>
<path d="M495.5 67.03 h2.3" stroke-width="0.6"/><path d="M808.6 67.03 h-2.3" stroke="#a4a4a4" stroke-width="0.6"/>
<path d="M495.5 58.95 h2.3" stroke-width="0.6"/><path d="M808.6 58.95 h-2.3" stroke="#a4a4a4" stroke-width="0.6"/>
<path d="M495.5 50.88 h2.3" stroke-width="0.6"/><path d="M808.6 50.88 h-2.3" stroke="#a4a4a4" stroke-width="0.6"/>
<path d="M495.5 42.80 h3.8"/><path d="M808.6 42.80 h-3.8" stroke="#a4a4a4"/>
<path d="M495.5 34.72 h2.3" stroke-width="0.6"/><path d="M808.6 34.72 h-2.3" stroke="#a4a4a4" stroke-width="0.6"/>
<path d="M495.5 26.65 h2.3" stroke-width="0.6"/><path d="M808.6 26.65 h-2.3" stroke="#a4a4a4" stroke-width="0.6"/>
<path d="M495.5 18.58 h2.3" stroke-width="0.6"/><path d="M808.6 18.58 h-2.3" stroke="#a4a4a4" stroke-width="0.6"/>
<path d="M495.5 10.50 h3.8"/><path d="M808.6 10.50 h-3.8" stroke="#a4a4a4"/>
</g>
<g font-size="17.2" fill="#000">
<text x="495.50" y="221.6" text-anchor="middle">0</text>
<text x="547.68" y="221.6" text-anchor="middle">2</text>
<text x="599.87" y="221.6" text-anchor="middle">4</text>
<text x="652.05" y="221.6" text-anchor="middle">6</text>
<text x="704.23" y="221.6" text-anchor="middle">8</text>
<text x="756.42" y="221.6" text-anchor="middle">10</text>
<text x="808.60" y="221.6" text-anchor="middle">12</text>
<text x="492.70" y="210.50" text-anchor="end">0.000</text>
<text x="492.70" y="178.20" text-anchor="end">0.002</text>
<text x="492.70" y="145.90" text-anchor="end">0.004</text>
<text x="492.70" y="113.60" text-anchor="end">0.006</text>
<text x="492.70" y="81.30" text-anchor="end">0.008</text>
<text x="492.70" y="49.00" text-anchor="end">0.010</text>
<text x="492.70" y="16.70" text-anchor="end">0.012</text>
</g>
<text x="651.75" y="246.7" text-anchor="middle" font-size="17">E (GeV)</text>
<g transform="translate(440.20,131) rotate(-90)" fill="#000"><text x="0" y="0" font-size="17">Re</text><rect x="23.7" y="-7.4" width="7.7" height="7.3" fill="none" stroke="#000" stroke-width="0.75"/><text x="32.9" y="-4.9" font-size="13.2" font-style="italic">V</text><text x="32.0" y="4.6" font-size="12.8" font-style="italic">γ</text><text x="38.4" y="4.6" font-size="13" font-style="italic">Z</text></g>
<rect x="116.5" y="127.6" width="128.1" height="68.20000000000002" fill="#fff"/>
<path d="M116.5 127.6 H244.6 M116.5 127.6 V195.8 M244.6 127.6 V195.8 " stroke="#dadada" stroke-width="1" fill="none"/>
<path d="M124 140.5 h19" stroke="#ff0000" stroke-width="1.45" fill="none"/>
<text x="159.7" y="145.5" font-size="15.3" fill="#000"><tspan>All </tspan><tspan font-style="italic">Q</tspan><tspan font-size="10.8" dy="-5.6">2</tspan><tspan dy="5.6" font-size="1">​</tspan></text>
<path d="M124 161.7 h19" stroke="#00aa00" stroke-width="1.45" fill="none" stroke-dasharray="13.2 1.5 6 0" stroke-dashoffset="0"/>
<text x="158.6" y="167.5" font-size="15.3" fill="#000"><tspan font-style="italic">Q</tspan><tspan font-size="10.8" dy="-5.6">2</tspan><tspan dy="5.6" font-size="1">​</tspan><tspan>≤ 10 GeV</tspan><tspan font-size="10.8" dy="-5.6">2</tspan><tspan dy="5.6" font-size="1">​</tspan></text>
<path d="M124 183.6 h19" stroke="#808080" stroke-width="1.45" fill="none" stroke-dasharray="8.9 3.2" stroke-dashoffset="0"/>
<text x="157.9" y="189.4" font-size="15.3" fill="#000"><tspan font-style="italic">Q</tspan><tspan font-size="10.8" dy="-5.6">2</tspan><tspan dy="5.6" font-size="1">​</tspan><tspan>≤ 5 GeV</tspan><tspan font-size="10.8" dy="-5.6">2</tspan><tspan dy="5.6" font-size="1">​</tspan></text>
<rect x="258.4" y="147.8" width="123.30000000000001" height="48.0" fill="#fff"/>
<path d="M258.4 147.8 V195.8 M381.7 147.8 V195.8 " stroke="#dadada" stroke-width="1" fill="none"/>
<path d="M265 161 h17.8" stroke="#000000" stroke-width="1.65" fill="none" stroke-dasharray="3.7 1.1 1.4 1.1" stroke-dashoffset="0"/>
<text x="295.2" y="167.3" font-size="15.3" fill="#000"><tspan font-style="italic">Q</tspan><tspan font-size="10.8" dy="-5.6">2</tspan><tspan dy="5.6" font-size="1">​</tspan><tspan>≤ 2.5 GeV</tspan><tspan font-size="10.8" dy="-5.6">2</tspan><tspan dy="5.6" font-size="1">​</tspan></text>
<path d="M265.1 183.4 h20" stroke="#0000ff" stroke-width="1.65" fill="none" stroke-dasharray="2.4 1.2" stroke-dashoffset="0"/>
<text x="297" y="189" font-size="15.3" fill="#000"><tspan font-style="italic">Q</tspan><tspan font-size="10.8" dy="-5.6">2</tspan><tspan dy="5.6" font-size="1">​</tspan><tspan>≤ 1 GeV</tspan><tspan font-size="10.8" dy="-5.6">2</tspan><tspan dy="5.6" font-size="1">​</tspan></text>
<rect x="522.4" y="131.2" width="134.70000000000005" height="70.20000000000002" fill="#fff"/>
<path d="M522.4 131.2 H657.1 M522.4 131.2 V201.4 M657.1 131.2 V201.4 " stroke="#dadada" stroke-width="1" fill="none"/>
<path d="M530.1 144.2 h19" stroke="#ff0000" stroke-width="1.45" fill="none"/>
<text x="564.8" y="150.4" font-size="15.3" fill="#000"><tspan>All </tspan><tspan font-style="italic">W</tspan><tspan font-size="10.8" dy="-5.6" dx="1.1">2</tspan><tspan dy="5.6" font-size="1">​</tspan></text>
<path d="M530.1 166 h19" stroke="#00aa00" stroke-width="1.45" fill="none" stroke-dasharray="13.2 1.5 6 0" stroke-dashoffset="0"/>
<text x="564.5" y="172.2" font-size="15.3" fill="#000"><tspan font-style="italic">W</tspan><tspan font-size="10.8" dy="-5.6" dx="1.1">2</tspan><tspan dy="5.6" font-size="1">​</tspan><tspan>≤ 10</tspan><tspan font-size="10.8" dy="-5.6">3</tspan><tspan dy="5.6" font-size="1">​</tspan><tspan> GeV</tspan><tspan font-size="10.8" dy="-5.6">2</tspan><tspan dy="5.6" font-size="1">​</tspan></text>
<path d="M530.1 188 h19" stroke="#808080" stroke-width="1.45" fill="none" stroke-dasharray="8.9 3.2" stroke-dashoffset="0"/>
<text x="564.5" y="193.6" font-size="15.3" fill="#000"><tspan font-style="italic">W</tspan><tspan font-size="10.8" dy="-5.6" dx="1.1">2</tspan><tspan dy="5.6" font-size="1">​</tspan><tspan>≤ 10</tspan><tspan font-size="10.8" dy="-5.6">2</tspan><tspan dy="5.6" font-size="1">​</tspan><tspan> GeV</tspan><tspan font-size="10.8" dy="-5.6">2</tspan><tspan dy="5.6" font-size="1">​</tspan></text>
<rect x="667.7" y="151.8" width="130.5" height="49.599999999999994" fill="#fff"/>
<path d="M667.7 151.8 V201.4 M798.2 151.8 V201.4 " stroke="#dadada" stroke-width="1" fill="none"/>
<path d="M675.3 165.2 h20" stroke="#0000ff" stroke-width="1.65" fill="none" stroke-dasharray="2.4 1.2" stroke-dashoffset="0"/>
<text x="706.6" y="171.3" font-size="15.3" fill="#000"><tspan font-style="italic">W</tspan><tspan font-size="10.8" dy="-5.6" dx="1.1">2</tspan><tspan dy="5.6" font-size="1">​</tspan><tspan>≤ 25</tspan><tspan> GeV</tspan><tspan font-size="10.8" dy="-5.6">2</tspan><tspan dy="5.6" font-size="1">​</tspan></text>
<path d="M675.3 187.6 h19.8" stroke="#b3b300" stroke-width="1.65" fill="none" stroke-dasharray="4.3 1.4" stroke-dashoffset="0"/>
<text x="706.6" y="193.4" font-size="15.3" fill="#000"><tspan font-style="italic">W</tspan><tspan font-size="10.8" dy="-5.6" dx="1.1">2</tspan><tspan dy="5.6" font-size="1">​</tspan><tspan>≤ 10</tspan><tspan> GeV</tspan><tspan font-size="10.8" dy="-5.6">2</tspan><tspan dy="5.6" font-size="1">​</tspan></text>
<rect x="667.7" y="99.6" width="130.69999999999993" height="27.60000000000001" fill="#fff"/>
<path d="M667.7 99.6 H798.4" stroke="#ececec" stroke-width="1" fill="none"/>
<path d="M667.7 99.6 V127.2 M798.4 99.6 V127.2 M667.7 127.2 H798.4 " stroke="#dadada" stroke-width="1" fill="none"/>
<path d="M675.1 113.5 h21" stroke="#000000" stroke-width="1.65" fill="none" stroke-dasharray="3.7 1.1 1.4 1.1" stroke-dashoffset="4.8"/>
<text x="706.8" y="119.6" font-size="15.3" fill="#000"><tspan font-style="italic">W</tspan><tspan font-size="10.8" dy="-5.6" dx="1.1">2</tspan><tspan dy="5.6" font-size="1">​</tspan><tspan>≤ 50</tspan><tspan> GeV</tspan><tspan font-size="10.8" dy="-5.6">2</tspan><tspan dy="5.6" font-size="1">​</tspan></text>
</svg>
</body></html>
